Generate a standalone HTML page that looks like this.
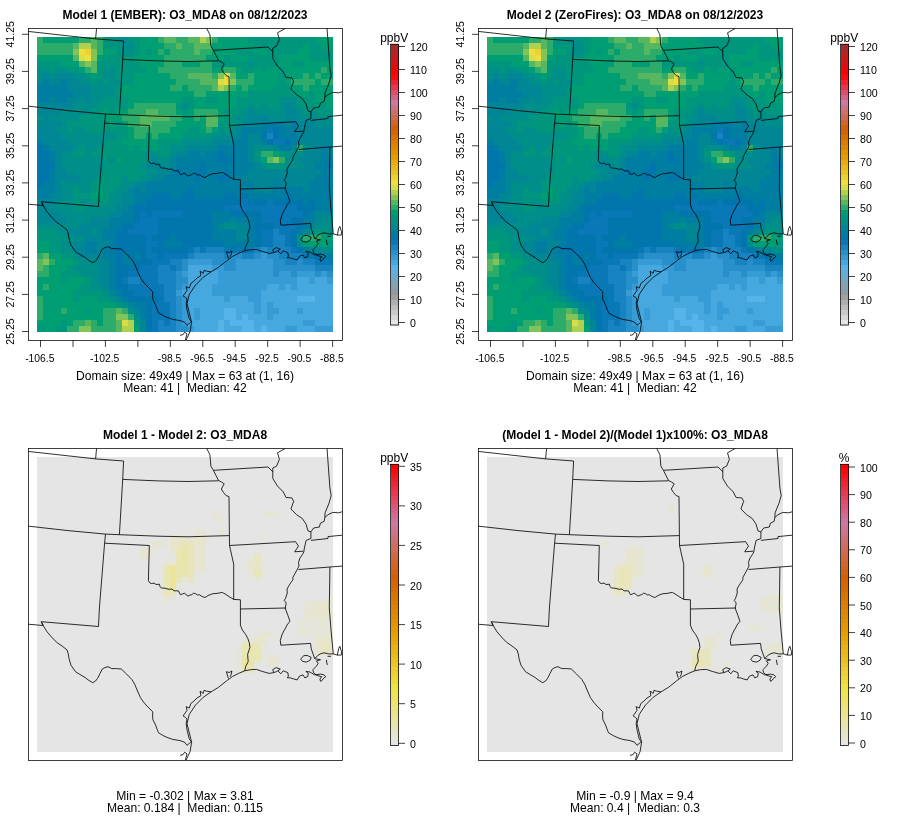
<!DOCTYPE html>
<html><head><meta charset="utf-8"><title>O3_MDA8 model comparison</title>
<style>html,body{margin:0;padding:0;background:#fff}svg{display:block}text{font-family:"Liberation Sans",Arial,Helvetica,sans-serif;fill:#000}.t{font-size:12.02px;font-weight:bold;text-anchor:middle}.s{font-size:12.1px;text-anchor:middle}.a{font-size:10.5px;text-anchor:middle}.ax{font-size:10.35px;text-anchor:middle}.c{font-size:10.6px}.u{font-size:12px;text-anchor:middle}</style></head><body>
<svg width="900" height="840" viewBox="0 0 900 840">
<rect width="900" height="840" fill="#fff"/>
<defs>
<clipPath id="bx"><rect x="28.5" y="28.5" width="314" height="312"/></clipPath>
<g id="r1" shape-rendering="crispEdges"><rect x="37" y="37" width="6" height="6" fill="#2CAB6A"/>
<rect x="43" y="37" width="36" height="6" fill="#009E73"/>
<rect x="79" y="37" width="12" height="6" fill="#2CAB6A"/>
<rect x="91" y="37" width="6" height="6" fill="#57B761"/>
<rect x="97" y="37" width="6" height="6" fill="#2CAB6A"/>
<rect x="103" y="37" width="13" height="6" fill="#00967E"/>
<rect x="116" y="37" width="12" height="6" fill="#008E8A"/>
<rect x="128" y="37" width="12" height="6" fill="#00967E"/>
<rect x="140" y="37" width="18" height="6" fill="#009E73"/>
<rect x="158" y="37" width="6" height="6" fill="#2CAB6A"/>
<rect x="164" y="37" width="12" height="6" fill="#57B761"/>
<rect x="176" y="37" width="12" height="6" fill="#2CAB6A"/>
<rect x="188" y="37" width="12" height="6" fill="#57B761"/>
<rect x="200" y="37" width="6" height="6" fill="#AFD14F"/>
<rect x="206" y="37" width="6" height="6" fill="#83C458"/>
<rect x="212" y="37" width="6" height="6" fill="#2CAB6A"/>
<rect x="218" y="37" width="30" height="6" fill="#009E73"/>
<rect x="248" y="37" width="67" height="6" fill="#00967E"/>
<rect x="315" y="37" width="18" height="6" fill="#009E73"/>
<rect x="37" y="43" width="36" height="6" fill="#2CAB6A"/>
<rect x="73" y="43" width="6" height="6" fill="#57B761"/>
<rect x="79" y="43" width="12" height="6" fill="#AFD14F"/>
<rect x="91" y="43" width="6" height="6" fill="#57B761"/>
<rect x="97" y="43" width="6" height="6" fill="#2CAB6A"/>
<rect x="103" y="43" width="19" height="6" fill="#00967E"/>
<rect x="122" y="43" width="12" height="6" fill="#008E8A"/>
<rect x="134" y="43" width="6" height="6" fill="#00967E"/>
<rect x="140" y="43" width="24" height="6" fill="#009E73"/>
<rect x="164" y="43" width="12" height="6" fill="#2CAB6A"/>
<rect x="176" y="43" width="6" height="6" fill="#57B761"/>
<rect x="182" y="43" width="12" height="6" fill="#2CAB6A"/>
<rect x="194" y="43" width="18" height="6" fill="#57B761"/>
<rect x="212" y="43" width="42" height="6" fill="#009E73"/>
<rect x="254" y="43" width="49" height="6" fill="#00967E"/>
<rect x="303" y="43" width="6" height="6" fill="#009E73"/>
<rect x="309" y="43" width="12" height="6" fill="#00967E"/>
<rect x="321" y="43" width="12" height="6" fill="#009E73"/>
<rect x="37" y="49" width="36" height="6" fill="#2CAB6A"/>
<rect x="73" y="49" width="6" height="6" fill="#83C458"/>
<rect x="79" y="49" width="6" height="6" fill="#EFDE3C"/>
<rect x="85" y="49" width="6" height="6" fill="#EDD130"/>
<rect x="91" y="49" width="6" height="6" fill="#83C458"/>
<rect x="97" y="49" width="6" height="6" fill="#2CAB6A"/>
<rect x="103" y="49" width="13" height="6" fill="#009E73"/>
<rect x="116" y="49" width="6" height="6" fill="#00967E"/>
<rect x="122" y="49" width="12" height="6" fill="#008E8A"/>
<rect x="134" y="49" width="6" height="6" fill="#00967E"/>
<rect x="140" y="49" width="6" height="6" fill="#009E73"/>
<rect x="146" y="49" width="6" height="6" fill="#00967E"/>
<rect x="152" y="49" width="6" height="6" fill="#009E73"/>
<rect x="158" y="49" width="6" height="6" fill="#2CAB6A"/>
<rect x="164" y="49" width="6" height="6" fill="#009E73"/>
<rect x="170" y="49" width="24" height="6" fill="#2CAB6A"/>
<rect x="194" y="49" width="6" height="6" fill="#57B761"/>
<rect x="200" y="49" width="12" height="6" fill="#2CAB6A"/>
<rect x="212" y="49" width="24" height="6" fill="#009E73"/>
<rect x="236" y="49" width="18" height="6" fill="#00967E"/>
<rect x="254" y="49" width="13" height="6" fill="#009E73"/>
<rect x="267" y="49" width="30" height="6" fill="#00967E"/>
<rect x="297" y="49" width="12" height="6" fill="#009E73"/>
<rect x="309" y="49" width="24" height="6" fill="#00967E"/>
<rect x="37" y="55" width="36" height="6" fill="#009E73"/>
<rect x="73" y="55" width="6" height="6" fill="#57B761"/>
<rect x="79" y="55" width="6" height="6" fill="#DADE46"/>
<rect x="85" y="55" width="6" height="6" fill="#EFDE3C"/>
<rect x="91" y="55" width="6" height="6" fill="#83C458"/>
<rect x="97" y="55" width="6" height="6" fill="#009E73"/>
<rect x="103" y="55" width="31" height="6" fill="#00967E"/>
<rect x="134" y="55" width="30" height="6" fill="#009E73"/>
<rect x="164" y="55" width="42" height="6" fill="#2CAB6A"/>
<rect x="206" y="55" width="18" height="6" fill="#009E73"/>
<rect x="224" y="55" width="6" height="6" fill="#00967E"/>
<rect x="230" y="55" width="18" height="6" fill="#009E73"/>
<rect x="248" y="55" width="31" height="6" fill="#00967E"/>
<rect x="279" y="55" width="30" height="6" fill="#009E73"/>
<rect x="309" y="55" width="24" height="6" fill="#00967E"/>
<rect x="37" y="61" width="24" height="6" fill="#00967E"/>
<rect x="61" y="61" width="18" height="6" fill="#009E73"/>
<rect x="79" y="61" width="6" height="6" fill="#57B761"/>
<rect x="85" y="61" width="6" height="6" fill="#83C458"/>
<rect x="91" y="61" width="6" height="6" fill="#57B761"/>
<rect x="97" y="61" width="43" height="6" fill="#00967E"/>
<rect x="140" y="61" width="24" height="6" fill="#009E73"/>
<rect x="164" y="61" width="18" height="6" fill="#2CAB6A"/>
<rect x="182" y="61" width="18" height="6" fill="#009E73"/>
<rect x="200" y="61" width="12" height="6" fill="#2CAB6A"/>
<rect x="212" y="61" width="36" height="6" fill="#00967E"/>
<rect x="248" y="61" width="6" height="6" fill="#008E8A"/>
<rect x="254" y="61" width="25" height="6" fill="#00967E"/>
<rect x="279" y="61" width="12" height="6" fill="#009E73"/>
<rect x="291" y="61" width="12" height="6" fill="#00967E"/>
<rect x="303" y="61" width="30" height="6" fill="#009E73"/>
<rect x="37" y="67" width="12" height="6" fill="#008E8A"/>
<rect x="49" y="67" width="6" height="6" fill="#00967E"/>
<rect x="55" y="67" width="12" height="6" fill="#008E8A"/>
<rect x="67" y="67" width="12" height="6" fill="#00967E"/>
<rect x="79" y="67" width="6" height="6" fill="#009E73"/>
<rect x="85" y="67" width="6" height="6" fill="#2CAB6A"/>
<rect x="91" y="67" width="6" height="6" fill="#57B761"/>
<rect x="97" y="67" width="6" height="6" fill="#00967E"/>
<rect x="103" y="67" width="13" height="6" fill="#008E8A"/>
<rect x="116" y="67" width="30" height="6" fill="#00967E"/>
<rect x="146" y="67" width="12" height="6" fill="#009E73"/>
<rect x="158" y="67" width="54" height="6" fill="#2CAB6A"/>
<rect x="212" y="67" width="12" height="6" fill="#009E73"/>
<rect x="224" y="67" width="12" height="6" fill="#2CAB6A"/>
<rect x="236" y="67" width="6" height="6" fill="#009E73"/>
<rect x="242" y="67" width="12" height="6" fill="#00967E"/>
<rect x="254" y="67" width="7" height="6" fill="#009E73"/>
<rect x="261" y="67" width="6" height="6" fill="#00967E"/>
<rect x="267" y="67" width="12" height="6" fill="#009E73"/>
<rect x="279" y="67" width="6" height="6" fill="#00967E"/>
<rect x="285" y="67" width="36" height="6" fill="#009E73"/>
<rect x="321" y="67" width="6" height="6" fill="#2CAB6A"/>
<rect x="327" y="67" width="6" height="6" fill="#009E73"/>
<rect x="37" y="73" width="6" height="6" fill="#008E8A"/>
<rect x="43" y="73" width="6" height="6" fill="#008695"/>
<rect x="49" y="73" width="6" height="6" fill="#008E8A"/>
<rect x="55" y="73" width="18" height="6" fill="#008695"/>
<rect x="73" y="73" width="12" height="6" fill="#008E8A"/>
<rect x="85" y="73" width="6" height="6" fill="#00967E"/>
<rect x="91" y="73" width="6" height="6" fill="#009E73"/>
<rect x="97" y="73" width="6" height="6" fill="#00967E"/>
<rect x="103" y="73" width="13" height="6" fill="#008E8A"/>
<rect x="116" y="73" width="18" height="6" fill="#00967E"/>
<rect x="134" y="73" width="36" height="6" fill="#009E73"/>
<rect x="170" y="73" width="18" height="6" fill="#2CAB6A"/>
<rect x="188" y="73" width="24" height="6" fill="#57B761"/>
<rect x="212" y="73" width="6" height="6" fill="#2CAB6A"/>
<rect x="218" y="73" width="6" height="6" fill="#83C458"/>
<rect x="224" y="73" width="6" height="6" fill="#DADE46"/>
<rect x="230" y="73" width="6" height="6" fill="#57B761"/>
<rect x="236" y="73" width="12" height="6" fill="#009E73"/>
<rect x="248" y="73" width="6" height="6" fill="#2CAB6A"/>
<rect x="254" y="73" width="25" height="6" fill="#009E73"/>
<rect x="279" y="73" width="6" height="6" fill="#00967E"/>
<rect x="285" y="73" width="18" height="6" fill="#009E73"/>
<rect x="303" y="73" width="6" height="6" fill="#2CAB6A"/>
<rect x="309" y="73" width="6" height="6" fill="#009E73"/>
<rect x="315" y="73" width="6" height="6" fill="#2CAB6A"/>
<rect x="321" y="73" width="12" height="6" fill="#009E73"/>
<rect x="37" y="79" width="6" height="6" fill="#008695"/>
<rect x="43" y="79" width="6" height="6" fill="#007EA1"/>
<rect x="49" y="79" width="12" height="6" fill="#008695"/>
<rect x="61" y="79" width="6" height="6" fill="#007EA1"/>
<rect x="67" y="79" width="12" height="6" fill="#008695"/>
<rect x="79" y="79" width="12" height="6" fill="#008E8A"/>
<rect x="91" y="79" width="6" height="6" fill="#00967E"/>
<rect x="97" y="79" width="6" height="6" fill="#008E8A"/>
<rect x="103" y="79" width="6" height="6" fill="#00967E"/>
<rect x="109" y="79" width="13" height="6" fill="#008E8A"/>
<rect x="122" y="79" width="12" height="6" fill="#00967E"/>
<rect x="134" y="79" width="42" height="6" fill="#009E73"/>
<rect x="176" y="79" width="24" height="6" fill="#2CAB6A"/>
<rect x="200" y="79" width="18" height="6" fill="#57B761"/>
<rect x="218" y="79" width="6" height="6" fill="#DADE46"/>
<rect x="224" y="79" width="6" height="6" fill="#EFDE3C"/>
<rect x="230" y="79" width="6" height="6" fill="#83C458"/>
<rect x="236" y="79" width="18" height="6" fill="#2CAB6A"/>
<rect x="254" y="79" width="25" height="6" fill="#009E73"/>
<rect x="279" y="79" width="6" height="6" fill="#00967E"/>
<rect x="285" y="79" width="6" height="6" fill="#009E73"/>
<rect x="291" y="79" width="24" height="6" fill="#2CAB6A"/>
<rect x="315" y="79" width="6" height="6" fill="#009E73"/>
<rect x="321" y="79" width="12" height="6" fill="#2CAB6A"/>
<rect x="37" y="85" width="30" height="6" fill="#007EA1"/>
<rect x="67" y="85" width="24" height="6" fill="#008695"/>
<rect x="91" y="85" width="25" height="6" fill="#008E8A"/>
<rect x="116" y="85" width="6" height="6" fill="#00967E"/>
<rect x="122" y="85" width="48" height="6" fill="#009E73"/>
<rect x="170" y="85" width="12" height="6" fill="#2CAB6A"/>
<rect x="182" y="85" width="6" height="6" fill="#009E73"/>
<rect x="188" y="85" width="24" height="6" fill="#2CAB6A"/>
<rect x="212" y="85" width="6" height="6" fill="#57B761"/>
<rect x="218" y="85" width="6" height="6" fill="#AFD14F"/>
<rect x="224" y="85" width="6" height="6" fill="#83C458"/>
<rect x="230" y="85" width="6" height="6" fill="#2CAB6A"/>
<rect x="236" y="85" width="6" height="6" fill="#009E73"/>
<rect x="242" y="85" width="6" height="6" fill="#2CAB6A"/>
<rect x="248" y="85" width="25" height="6" fill="#009E73"/>
<rect x="273" y="85" width="18" height="6" fill="#00967E"/>
<rect x="291" y="85" width="12" height="6" fill="#009E73"/>
<rect x="303" y="85" width="6" height="6" fill="#2CAB6A"/>
<rect x="309" y="85" width="24" height="6" fill="#009E73"/>
<rect x="37" y="91" width="36" height="6" fill="#007EA1"/>
<rect x="73" y="91" width="18" height="6" fill="#008695"/>
<rect x="91" y="91" width="25" height="6" fill="#008E8A"/>
<rect x="116" y="91" width="6" height="6" fill="#00967E"/>
<rect x="122" y="91" width="72" height="6" fill="#009E73"/>
<rect x="194" y="91" width="12" height="6" fill="#2CAB6A"/>
<rect x="206" y="91" width="42" height="6" fill="#009E73"/>
<rect x="248" y="91" width="49" height="6" fill="#00967E"/>
<rect x="297" y="91" width="12" height="6" fill="#009E73"/>
<rect x="309" y="91" width="6" height="6" fill="#00967E"/>
<rect x="315" y="91" width="18" height="6" fill="#009E73"/>
<rect x="37" y="97" width="12" height="6" fill="#007EA1"/>
<rect x="49" y="97" width="6" height="6" fill="#008695"/>
<rect x="55" y="97" width="12" height="6" fill="#007EA1"/>
<rect x="67" y="97" width="12" height="6" fill="#008695"/>
<rect x="79" y="97" width="6" height="6" fill="#008E8A"/>
<rect x="85" y="97" width="6" height="6" fill="#008695"/>
<rect x="91" y="97" width="12" height="6" fill="#008E8A"/>
<rect x="103" y="97" width="25" height="6" fill="#00967E"/>
<rect x="128" y="97" width="54" height="6" fill="#009E73"/>
<rect x="182" y="97" width="12" height="6" fill="#00967E"/>
<rect x="194" y="97" width="12" height="6" fill="#009E73"/>
<rect x="206" y="97" width="12" height="6" fill="#00967E"/>
<rect x="218" y="97" width="18" height="6" fill="#009E73"/>
<rect x="236" y="97" width="43" height="6" fill="#00967E"/>
<rect x="279" y="97" width="18" height="6" fill="#008E8A"/>
<rect x="297" y="97" width="18" height="6" fill="#00967E"/>
<rect x="315" y="97" width="18" height="6" fill="#009E73"/>
<rect x="37" y="103" width="36" height="6" fill="#008695"/>
<rect x="73" y="103" width="24" height="6" fill="#008E8A"/>
<rect x="97" y="103" width="31" height="6" fill="#00967E"/>
<rect x="128" y="103" width="6" height="6" fill="#009E73"/>
<rect x="134" y="103" width="42" height="6" fill="#2CAB6A"/>
<rect x="176" y="103" width="6" height="6" fill="#00967E"/>
<rect x="182" y="103" width="6" height="6" fill="#008E8A"/>
<rect x="188" y="103" width="6" height="6" fill="#00967E"/>
<rect x="194" y="103" width="42" height="6" fill="#009E73"/>
<rect x="236" y="103" width="12" height="6" fill="#00967E"/>
<rect x="248" y="103" width="6" height="6" fill="#008E8A"/>
<rect x="254" y="103" width="7" height="6" fill="#00967E"/>
<rect x="261" y="103" width="6" height="6" fill="#008E8A"/>
<rect x="267" y="103" width="12" height="6" fill="#00967E"/>
<rect x="279" y="103" width="6" height="6" fill="#008E8A"/>
<rect x="285" y="103" width="6" height="6" fill="#008695"/>
<rect x="291" y="103" width="6" height="6" fill="#008E8A"/>
<rect x="297" y="103" width="30" height="6" fill="#00967E"/>
<rect x="327" y="103" width="6" height="6" fill="#009E73"/>
<rect x="37" y="109" width="24" height="6" fill="#008695"/>
<rect x="61" y="109" width="30" height="6" fill="#008E8A"/>
<rect x="91" y="109" width="12" height="6" fill="#00967E"/>
<rect x="103" y="109" width="6" height="6" fill="#009E73"/>
<rect x="109" y="109" width="7" height="6" fill="#00967E"/>
<rect x="116" y="109" width="12" height="6" fill="#009E73"/>
<rect x="128" y="109" width="18" height="6" fill="#2CAB6A"/>
<rect x="146" y="109" width="12" height="6" fill="#57B761"/>
<rect x="158" y="109" width="18" height="6" fill="#2CAB6A"/>
<rect x="176" y="109" width="6" height="6" fill="#009E73"/>
<rect x="182" y="109" width="6" height="6" fill="#00967E"/>
<rect x="188" y="109" width="6" height="6" fill="#009E73"/>
<rect x="194" y="109" width="24" height="6" fill="#2CAB6A"/>
<rect x="218" y="109" width="6" height="6" fill="#009E73"/>
<rect x="224" y="109" width="18" height="6" fill="#00967E"/>
<rect x="242" y="109" width="6" height="6" fill="#008E8A"/>
<rect x="248" y="109" width="6" height="6" fill="#008695"/>
<rect x="254" y="109" width="31" height="6" fill="#008E8A"/>
<rect x="285" y="109" width="12" height="6" fill="#008695"/>
<rect x="297" y="109" width="6" height="6" fill="#008E8A"/>
<rect x="303" y="109" width="6" height="6" fill="#00967E"/>
<rect x="309" y="109" width="6" height="6" fill="#008E8A"/>
<rect x="315" y="109" width="18" height="6" fill="#00967E"/>
<rect x="37" y="115" width="6" height="6" fill="#008E8A"/>
<rect x="43" y="115" width="6" height="6" fill="#008695"/>
<rect x="49" y="115" width="30" height="6" fill="#008E8A"/>
<rect x="79" y="115" width="24" height="6" fill="#00967E"/>
<rect x="103" y="115" width="19" height="6" fill="#009E73"/>
<rect x="122" y="115" width="18" height="6" fill="#2CAB6A"/>
<rect x="140" y="115" width="30" height="6" fill="#57B761"/>
<rect x="170" y="115" width="12" height="6" fill="#2CAB6A"/>
<rect x="182" y="115" width="12" height="6" fill="#009E73"/>
<rect x="194" y="115" width="6" height="6" fill="#2CAB6A"/>
<rect x="200" y="115" width="6" height="6" fill="#009E73"/>
<rect x="206" y="115" width="12" height="6" fill="#57B761"/>
<rect x="218" y="115" width="6" height="6" fill="#009E73"/>
<rect x="224" y="115" width="12" height="6" fill="#00967E"/>
<rect x="236" y="115" width="12" height="6" fill="#008E8A"/>
<rect x="248" y="115" width="19" height="6" fill="#008695"/>
<rect x="267" y="115" width="18" height="6" fill="#008E8A"/>
<rect x="285" y="115" width="12" height="6" fill="#008695"/>
<rect x="297" y="115" width="36" height="6" fill="#008E8A"/>
<rect x="37" y="121" width="24" height="6" fill="#008695"/>
<rect x="61" y="121" width="6" height="6" fill="#008E8A"/>
<rect x="67" y="121" width="42" height="6" fill="#00967E"/>
<rect x="109" y="121" width="7" height="6" fill="#009E73"/>
<rect x="116" y="121" width="6" height="6" fill="#00967E"/>
<rect x="122" y="121" width="6" height="6" fill="#009E73"/>
<rect x="128" y="121" width="12" height="6" fill="#2CAB6A"/>
<rect x="140" y="121" width="12" height="6" fill="#57B761"/>
<rect x="152" y="121" width="24" height="6" fill="#2CAB6A"/>
<rect x="176" y="121" width="30" height="6" fill="#009E73"/>
<rect x="206" y="121" width="12" height="6" fill="#57B761"/>
<rect x="218" y="121" width="18" height="6" fill="#00967E"/>
<rect x="236" y="121" width="6" height="6" fill="#008E8A"/>
<rect x="242" y="121" width="19" height="6" fill="#008695"/>
<rect x="261" y="121" width="24" height="6" fill="#007EA1"/>
<rect x="285" y="121" width="6" height="6" fill="#008695"/>
<rect x="291" y="121" width="6" height="6" fill="#007EA1"/>
<rect x="297" y="121" width="18" height="6" fill="#008695"/>
<rect x="315" y="121" width="18" height="6" fill="#008E8A"/>
<rect x="37" y="127" width="18" height="6" fill="#008695"/>
<rect x="55" y="127" width="12" height="6" fill="#008E8A"/>
<rect x="67" y="127" width="6" height="6" fill="#00967E"/>
<rect x="73" y="127" width="12" height="6" fill="#008E8A"/>
<rect x="85" y="127" width="43" height="6" fill="#00967E"/>
<rect x="128" y="127" width="6" height="6" fill="#009E73"/>
<rect x="134" y="127" width="36" height="6" fill="#2CAB6A"/>
<rect x="170" y="127" width="18" height="6" fill="#009E73"/>
<rect x="188" y="127" width="12" height="6" fill="#00967E"/>
<rect x="200" y="127" width="6" height="6" fill="#009E73"/>
<rect x="206" y="127" width="6" height="6" fill="#2CAB6A"/>
<rect x="212" y="127" width="6" height="6" fill="#009E73"/>
<rect x="218" y="127" width="6" height="6" fill="#008E8A"/>
<rect x="224" y="127" width="6" height="6" fill="#00967E"/>
<rect x="230" y="127" width="6" height="6" fill="#008E8A"/>
<rect x="236" y="127" width="6" height="6" fill="#008695"/>
<rect x="242" y="127" width="25" height="6" fill="#007EA1"/>
<rect x="267" y="127" width="6" height="6" fill="#0878B7"/>
<rect x="273" y="127" width="6" height="6" fill="#0076AC"/>
<rect x="279" y="127" width="18" height="6" fill="#007EA1"/>
<rect x="297" y="127" width="36" height="6" fill="#008695"/>
<rect x="37" y="133" width="24" height="6" fill="#008695"/>
<rect x="61" y="133" width="55" height="6" fill="#008E8A"/>
<rect x="116" y="133" width="12" height="6" fill="#00967E"/>
<rect x="128" y="133" width="6" height="6" fill="#009E73"/>
<rect x="134" y="133" width="12" height="6" fill="#2CAB6A"/>
<rect x="146" y="133" width="6" height="6" fill="#009E73"/>
<rect x="152" y="133" width="6" height="6" fill="#2CAB6A"/>
<rect x="158" y="133" width="24" height="6" fill="#009E73"/>
<rect x="182" y="133" width="30" height="6" fill="#00967E"/>
<rect x="212" y="133" width="18" height="6" fill="#008E8A"/>
<rect x="230" y="133" width="12" height="6" fill="#008695"/>
<rect x="242" y="133" width="6" height="6" fill="#007EA1"/>
<rect x="248" y="133" width="13" height="6" fill="#008695"/>
<rect x="261" y="133" width="6" height="6" fill="#0076AC"/>
<rect x="267" y="133" width="6" height="6" fill="#1784C1"/>
<rect x="273" y="133" width="6" height="6" fill="#0076AC"/>
<rect x="279" y="133" width="18" height="6" fill="#007EA1"/>
<rect x="297" y="133" width="36" height="6" fill="#008695"/>
<rect x="37" y="139" width="6" height="6" fill="#007EA1"/>
<rect x="43" y="139" width="24" height="6" fill="#008695"/>
<rect x="67" y="139" width="36" height="6" fill="#008E8A"/>
<rect x="103" y="139" width="19" height="6" fill="#00967E"/>
<rect x="122" y="139" width="36" height="6" fill="#009E73"/>
<rect x="158" y="139" width="24" height="6" fill="#00967E"/>
<rect x="182" y="139" width="30" height="6" fill="#008E8A"/>
<rect x="212" y="139" width="24" height="6" fill="#008695"/>
<rect x="236" y="139" width="12" height="6" fill="#007EA1"/>
<rect x="248" y="139" width="13" height="6" fill="#008695"/>
<rect x="261" y="139" width="6" height="6" fill="#007EA1"/>
<rect x="267" y="139" width="6" height="6" fill="#0076AC"/>
<rect x="273" y="139" width="12" height="6" fill="#0878B7"/>
<rect x="285" y="139" width="6" height="6" fill="#0076AC"/>
<rect x="291" y="139" width="6" height="6" fill="#007EA1"/>
<rect x="297" y="139" width="36" height="6" fill="#008695"/>
<rect x="37" y="145" width="6" height="6" fill="#0076AC"/>
<rect x="43" y="145" width="6" height="6" fill="#007EA1"/>
<rect x="49" y="145" width="24" height="6" fill="#008695"/>
<rect x="73" y="145" width="6" height="6" fill="#008E8A"/>
<rect x="79" y="145" width="6" height="6" fill="#00967E"/>
<rect x="85" y="145" width="12" height="6" fill="#008E8A"/>
<rect x="97" y="145" width="31" height="6" fill="#00967E"/>
<rect x="128" y="145" width="6" height="6" fill="#009E73"/>
<rect x="134" y="145" width="6" height="6" fill="#00967E"/>
<rect x="140" y="145" width="6" height="6" fill="#009E73"/>
<rect x="146" y="145" width="6" height="6" fill="#00967E"/>
<rect x="152" y="145" width="6" height="6" fill="#009E73"/>
<rect x="158" y="145" width="12" height="6" fill="#00967E"/>
<rect x="170" y="145" width="18" height="6" fill="#008E8A"/>
<rect x="188" y="145" width="30" height="6" fill="#008695"/>
<rect x="218" y="145" width="30" height="6" fill="#007EA1"/>
<rect x="248" y="145" width="6" height="6" fill="#008695"/>
<rect x="254" y="145" width="19" height="6" fill="#008E8A"/>
<rect x="273" y="145" width="6" height="6" fill="#008695"/>
<rect x="279" y="145" width="12" height="6" fill="#007EA1"/>
<rect x="291" y="145" width="6" height="6" fill="#008695"/>
<rect x="297" y="145" width="6" height="6" fill="#2CAB6A"/>
<rect x="303" y="145" width="6" height="6" fill="#008E8A"/>
<rect x="309" y="145" width="12" height="6" fill="#008695"/>
<rect x="321" y="145" width="6" height="6" fill="#007EA1"/>
<rect x="327" y="145" width="6" height="6" fill="#008695"/>
<rect x="37" y="151" width="12" height="6" fill="#0076AC"/>
<rect x="49" y="151" width="6" height="6" fill="#007EA1"/>
<rect x="55" y="151" width="6" height="6" fill="#008695"/>
<rect x="61" y="151" width="12" height="6" fill="#008E8A"/>
<rect x="73" y="151" width="12" height="6" fill="#00967E"/>
<rect x="85" y="151" width="6" height="6" fill="#008E8A"/>
<rect x="91" y="151" width="55" height="6" fill="#00967E"/>
<rect x="146" y="151" width="12" height="6" fill="#008E8A"/>
<rect x="158" y="151" width="12" height="6" fill="#00967E"/>
<rect x="170" y="151" width="6" height="6" fill="#008E8A"/>
<rect x="176" y="151" width="12" height="6" fill="#008695"/>
<rect x="188" y="151" width="12" height="6" fill="#007EA1"/>
<rect x="200" y="151" width="6" height="6" fill="#008695"/>
<rect x="206" y="151" width="12" height="6" fill="#007EA1"/>
<rect x="218" y="151" width="6" height="6" fill="#0076AC"/>
<rect x="224" y="151" width="24" height="6" fill="#007EA1"/>
<rect x="248" y="151" width="6" height="6" fill="#008695"/>
<rect x="254" y="151" width="7" height="6" fill="#00967E"/>
<rect x="261" y="151" width="12" height="6" fill="#2CAB6A"/>
<rect x="273" y="151" width="6" height="6" fill="#009E73"/>
<rect x="279" y="151" width="6" height="6" fill="#00967E"/>
<rect x="285" y="151" width="18" height="6" fill="#008E8A"/>
<rect x="303" y="151" width="18" height="6" fill="#008695"/>
<rect x="321" y="151" width="6" height="6" fill="#007EA1"/>
<rect x="327" y="151" width="6" height="6" fill="#008695"/>
<rect x="37" y="157" width="12" height="6" fill="#0076AC"/>
<rect x="49" y="157" width="6" height="6" fill="#007EA1"/>
<rect x="55" y="157" width="6" height="6" fill="#008695"/>
<rect x="61" y="157" width="42" height="6" fill="#008E8A"/>
<rect x="103" y="157" width="6" height="6" fill="#00967E"/>
<rect x="109" y="157" width="7" height="6" fill="#008E8A"/>
<rect x="116" y="157" width="6" height="6" fill="#009E73"/>
<rect x="122" y="157" width="24" height="6" fill="#00967E"/>
<rect x="146" y="157" width="6" height="6" fill="#008E8A"/>
<rect x="152" y="157" width="6" height="6" fill="#008695"/>
<rect x="158" y="157" width="12" height="6" fill="#008E8A"/>
<rect x="170" y="157" width="6" height="6" fill="#008695"/>
<rect x="176" y="157" width="42" height="6" fill="#007EA1"/>
<rect x="218" y="157" width="12" height="6" fill="#0076AC"/>
<rect x="230" y="157" width="18" height="6" fill="#007EA1"/>
<rect x="248" y="157" width="6" height="6" fill="#008695"/>
<rect x="254" y="157" width="7" height="6" fill="#008E8A"/>
<rect x="261" y="157" width="6" height="6" fill="#009E73"/>
<rect x="267" y="157" width="6" height="6" fill="#57B761"/>
<rect x="273" y="157" width="6" height="6" fill="#83C458"/>
<rect x="279" y="157" width="6" height="6" fill="#2CAB6A"/>
<rect x="285" y="157" width="12" height="6" fill="#008E8A"/>
<rect x="297" y="157" width="24" height="6" fill="#008695"/>
<rect x="321" y="157" width="12" height="6" fill="#007EA1"/>
<rect x="37" y="163" width="18" height="6" fill="#0076AC"/>
<rect x="55" y="163" width="6" height="6" fill="#008695"/>
<rect x="61" y="163" width="42" height="6" fill="#008E8A"/>
<rect x="103" y="163" width="37" height="6" fill="#00967E"/>
<rect x="140" y="163" width="6" height="6" fill="#008E8A"/>
<rect x="146" y="163" width="18" height="6" fill="#008695"/>
<rect x="164" y="163" width="6" height="6" fill="#008E8A"/>
<rect x="170" y="163" width="6" height="6" fill="#008695"/>
<rect x="176" y="163" width="24" height="6" fill="#007EA1"/>
<rect x="200" y="163" width="6" height="6" fill="#0076AC"/>
<rect x="206" y="163" width="48" height="6" fill="#007EA1"/>
<rect x="254" y="163" width="7" height="6" fill="#008695"/>
<rect x="261" y="163" width="6" height="6" fill="#008E8A"/>
<rect x="267" y="163" width="18" height="6" fill="#00967E"/>
<rect x="285" y="163" width="18" height="6" fill="#008E8A"/>
<rect x="303" y="163" width="12" height="6" fill="#008695"/>
<rect x="315" y="163" width="12" height="6" fill="#007EA1"/>
<rect x="327" y="163" width="6" height="6" fill="#0076AC"/>
<rect x="37" y="169" width="12" height="6" fill="#0076AC"/>
<rect x="49" y="169" width="6" height="6" fill="#007EA1"/>
<rect x="55" y="169" width="12" height="6" fill="#008695"/>
<rect x="67" y="169" width="36" height="6" fill="#008E8A"/>
<rect x="103" y="169" width="43" height="6" fill="#00967E"/>
<rect x="146" y="169" width="12" height="6" fill="#008E8A"/>
<rect x="158" y="169" width="12" height="6" fill="#008695"/>
<rect x="170" y="169" width="6" height="6" fill="#007EA1"/>
<rect x="176" y="169" width="6" height="6" fill="#0076AC"/>
<rect x="182" y="169" width="12" height="6" fill="#007EA1"/>
<rect x="194" y="169" width="12" height="6" fill="#0076AC"/>
<rect x="206" y="169" width="18" height="6" fill="#007EA1"/>
<rect x="224" y="169" width="6" height="6" fill="#0076AC"/>
<rect x="230" y="169" width="18" height="6" fill="#007EA1"/>
<rect x="248" y="169" width="73" height="6" fill="#008695"/>
<rect x="321" y="169" width="12" height="6" fill="#007EA1"/>
<rect x="37" y="175" width="12" height="6" fill="#0076AC"/>
<rect x="49" y="175" width="6" height="6" fill="#007EA1"/>
<rect x="55" y="175" width="24" height="6" fill="#008695"/>
<rect x="79" y="175" width="18" height="6" fill="#008E8A"/>
<rect x="97" y="175" width="25" height="6" fill="#00967E"/>
<rect x="122" y="175" width="6" height="6" fill="#008E8A"/>
<rect x="128" y="175" width="12" height="6" fill="#00967E"/>
<rect x="140" y="175" width="12" height="6" fill="#008E8A"/>
<rect x="152" y="175" width="12" height="6" fill="#008695"/>
<rect x="164" y="175" width="30" height="6" fill="#007EA1"/>
<rect x="194" y="175" width="6" height="6" fill="#0076AC"/>
<rect x="200" y="175" width="18" height="6" fill="#007EA1"/>
<rect x="218" y="175" width="12" height="6" fill="#0076AC"/>
<rect x="230" y="175" width="12" height="6" fill="#007EA1"/>
<rect x="242" y="175" width="73" height="6" fill="#008695"/>
<rect x="315" y="175" width="18" height="6" fill="#007EA1"/>
<rect x="37" y="181" width="6" height="6" fill="#0076AC"/>
<rect x="43" y="181" width="12" height="6" fill="#007EA1"/>
<rect x="55" y="181" width="6" height="6" fill="#008695"/>
<rect x="61" y="181" width="30" height="6" fill="#008E8A"/>
<rect x="91" y="181" width="31" height="6" fill="#00967E"/>
<rect x="122" y="181" width="12" height="6" fill="#008E8A"/>
<rect x="134" y="181" width="12" height="6" fill="#008695"/>
<rect x="146" y="181" width="108" height="6" fill="#007EA1"/>
<rect x="254" y="181" width="19" height="6" fill="#008695"/>
<rect x="273" y="181" width="6" height="6" fill="#007EA1"/>
<rect x="279" y="181" width="30" height="6" fill="#008695"/>
<rect x="309" y="181" width="24" height="6" fill="#007EA1"/>
<rect x="37" y="187" width="18" height="6" fill="#007EA1"/>
<rect x="55" y="187" width="6" height="6" fill="#008695"/>
<rect x="61" y="187" width="12" height="6" fill="#008E8A"/>
<rect x="73" y="187" width="6" height="6" fill="#00967E"/>
<rect x="79" y="187" width="12" height="6" fill="#008E8A"/>
<rect x="91" y="187" width="6" height="6" fill="#00967E"/>
<rect x="97" y="187" width="6" height="6" fill="#009E73"/>
<rect x="103" y="187" width="13" height="6" fill="#00967E"/>
<rect x="116" y="187" width="12" height="6" fill="#008E8A"/>
<rect x="128" y="187" width="6" height="6" fill="#008695"/>
<rect x="134" y="187" width="6" height="6" fill="#007EA1"/>
<rect x="140" y="187" width="6" height="6" fill="#008695"/>
<rect x="146" y="187" width="42" height="6" fill="#007EA1"/>
<rect x="188" y="187" width="6" height="6" fill="#0076AC"/>
<rect x="194" y="187" width="60" height="6" fill="#007EA1"/>
<rect x="254" y="187" width="19" height="6" fill="#008695"/>
<rect x="273" y="187" width="30" height="6" fill="#007EA1"/>
<rect x="303" y="187" width="6" height="6" fill="#008695"/>
<rect x="309" y="187" width="24" height="6" fill="#007EA1"/>
<rect x="37" y="193" width="12" height="6" fill="#007EA1"/>
<rect x="49" y="193" width="12" height="6" fill="#008695"/>
<rect x="61" y="193" width="12" height="6" fill="#008E8A"/>
<rect x="73" y="193" width="18" height="6" fill="#00967E"/>
<rect x="91" y="193" width="12" height="6" fill="#009E73"/>
<rect x="103" y="193" width="6" height="6" fill="#00967E"/>
<rect x="109" y="193" width="13" height="6" fill="#008E8A"/>
<rect x="122" y="193" width="12" height="6" fill="#008695"/>
<rect x="134" y="193" width="18" height="6" fill="#007EA1"/>
<rect x="152" y="193" width="18" height="6" fill="#0076AC"/>
<rect x="170" y="193" width="12" height="6" fill="#007EA1"/>
<rect x="182" y="193" width="12" height="6" fill="#0076AC"/>
<rect x="194" y="193" width="30" height="6" fill="#007EA1"/>
<rect x="224" y="193" width="12" height="6" fill="#0076AC"/>
<rect x="236" y="193" width="6" height="6" fill="#007EA1"/>
<rect x="242" y="193" width="6" height="6" fill="#0076AC"/>
<rect x="248" y="193" width="37" height="6" fill="#007EA1"/>
<rect x="285" y="193" width="6" height="6" fill="#0076AC"/>
<rect x="291" y="193" width="42" height="6" fill="#007EA1"/>
<rect x="37" y="199" width="18" height="6" fill="#008695"/>
<rect x="55" y="199" width="18" height="6" fill="#008E8A"/>
<rect x="73" y="199" width="6" height="6" fill="#00967E"/>
<rect x="79" y="199" width="12" height="6" fill="#008E8A"/>
<rect x="91" y="199" width="18" height="6" fill="#00967E"/>
<rect x="109" y="199" width="13" height="6" fill="#008E8A"/>
<rect x="122" y="199" width="12" height="6" fill="#008695"/>
<rect x="134" y="199" width="12" height="6" fill="#007EA1"/>
<rect x="146" y="199" width="96" height="6" fill="#0076AC"/>
<rect x="242" y="199" width="6" height="6" fill="#0878B7"/>
<rect x="248" y="199" width="19" height="6" fill="#0076AC"/>
<rect x="267" y="199" width="6" height="6" fill="#0878B7"/>
<rect x="273" y="199" width="30" height="6" fill="#0076AC"/>
<rect x="303" y="199" width="6" height="6" fill="#007EA1"/>
<rect x="309" y="199" width="6" height="6" fill="#0076AC"/>
<rect x="315" y="199" width="18" height="6" fill="#007EA1"/>
<rect x="37" y="205" width="12" height="6" fill="#008695"/>
<rect x="49" y="205" width="24" height="6" fill="#008E8A"/>
<rect x="73" y="205" width="12" height="6" fill="#00967E"/>
<rect x="85" y="205" width="31" height="6" fill="#008E8A"/>
<rect x="116" y="205" width="12" height="6" fill="#008695"/>
<rect x="128" y="205" width="6" height="6" fill="#007EA1"/>
<rect x="134" y="205" width="90" height="6" fill="#0076AC"/>
<rect x="224" y="205" width="73" height="6" fill="#0878B7"/>
<rect x="297" y="205" width="18" height="6" fill="#0076AC"/>
<rect x="315" y="205" width="18" height="6" fill="#007EA1"/>
<rect x="37" y="211" width="24" height="6" fill="#008695"/>
<rect x="61" y="211" width="48" height="6" fill="#008E8A"/>
<rect x="109" y="211" width="13" height="6" fill="#008695"/>
<rect x="122" y="211" width="12" height="6" fill="#007EA1"/>
<rect x="134" y="211" width="6" height="6" fill="#0076AC"/>
<rect x="140" y="211" width="6" height="6" fill="#0878B7"/>
<rect x="146" y="211" width="6" height="6" fill="#0076AC"/>
<rect x="152" y="211" width="30" height="6" fill="#0878B7"/>
<rect x="182" y="211" width="30" height="6" fill="#0076AC"/>
<rect x="212" y="211" width="18" height="6" fill="#007EA1"/>
<rect x="230" y="211" width="31" height="6" fill="#0076AC"/>
<rect x="261" y="211" width="42" height="6" fill="#0878B7"/>
<rect x="303" y="211" width="6" height="6" fill="#0076AC"/>
<rect x="309" y="211" width="6" height="6" fill="#007EA1"/>
<rect x="315" y="211" width="18" height="6" fill="#008695"/>
<rect x="37" y="217" width="30" height="6" fill="#008695"/>
<rect x="67" y="217" width="24" height="6" fill="#008E8A"/>
<rect x="91" y="217" width="18" height="6" fill="#008695"/>
<rect x="109" y="217" width="25" height="6" fill="#007EA1"/>
<rect x="134" y="217" width="6" height="6" fill="#0076AC"/>
<rect x="140" y="217" width="18" height="6" fill="#0878B7"/>
<rect x="158" y="217" width="54" height="6" fill="#0076AC"/>
<rect x="212" y="217" width="18" height="6" fill="#007EA1"/>
<rect x="230" y="217" width="6" height="6" fill="#008695"/>
<rect x="236" y="217" width="18" height="6" fill="#007EA1"/>
<rect x="254" y="217" width="7" height="6" fill="#0076AC"/>
<rect x="261" y="217" width="30" height="6" fill="#0878B7"/>
<rect x="291" y="217" width="12" height="6" fill="#0076AC"/>
<rect x="303" y="217" width="12" height="6" fill="#007EA1"/>
<rect x="315" y="217" width="6" height="6" fill="#008695"/>
<rect x="321" y="217" width="12" height="6" fill="#008E8A"/>
<rect x="37" y="223" width="42" height="6" fill="#008E8A"/>
<rect x="79" y="223" width="30" height="6" fill="#008695"/>
<rect x="109" y="223" width="13" height="6" fill="#007EA1"/>
<rect x="122" y="223" width="12" height="6" fill="#0076AC"/>
<rect x="134" y="223" width="24" height="6" fill="#0878B7"/>
<rect x="158" y="223" width="54" height="6" fill="#0076AC"/>
<rect x="212" y="223" width="6" height="6" fill="#007EA1"/>
<rect x="218" y="223" width="6" height="6" fill="#008695"/>
<rect x="224" y="223" width="12" height="6" fill="#008E8A"/>
<rect x="236" y="223" width="12" height="6" fill="#008695"/>
<rect x="248" y="223" width="6" height="6" fill="#007EA1"/>
<rect x="254" y="223" width="19" height="6" fill="#0076AC"/>
<rect x="273" y="223" width="24" height="6" fill="#0878B7"/>
<rect x="297" y="223" width="6" height="6" fill="#0076AC"/>
<rect x="303" y="223" width="6" height="6" fill="#007EA1"/>
<rect x="309" y="223" width="6" height="6" fill="#008695"/>
<rect x="315" y="223" width="18" height="6" fill="#008E8A"/>
<rect x="37" y="229" width="18" height="6" fill="#00967E"/>
<rect x="55" y="229" width="12" height="6" fill="#008E8A"/>
<rect x="67" y="229" width="24" height="6" fill="#008695"/>
<rect x="91" y="229" width="6" height="6" fill="#008E8A"/>
<rect x="97" y="229" width="6" height="6" fill="#008695"/>
<rect x="103" y="229" width="13" height="6" fill="#007EA1"/>
<rect x="116" y="229" width="12" height="6" fill="#0076AC"/>
<rect x="128" y="229" width="30" height="6" fill="#0878B7"/>
<rect x="158" y="229" width="54" height="6" fill="#0076AC"/>
<rect x="212" y="229" width="24" height="6" fill="#007EA1"/>
<rect x="236" y="229" width="12" height="6" fill="#008695"/>
<rect x="248" y="229" width="6" height="6" fill="#007EA1"/>
<rect x="254" y="229" width="7" height="6" fill="#0076AC"/>
<rect x="261" y="229" width="12" height="6" fill="#0878B7"/>
<rect x="273" y="229" width="6" height="6" fill="#1784C1"/>
<rect x="279" y="229" width="12" height="6" fill="#0878B7"/>
<rect x="291" y="229" width="6" height="6" fill="#0076AC"/>
<rect x="297" y="229" width="6" height="6" fill="#007EA1"/>
<rect x="303" y="229" width="6" height="6" fill="#008695"/>
<rect x="309" y="229" width="6" height="6" fill="#008E8A"/>
<rect x="315" y="229" width="12" height="6" fill="#00967E"/>
<rect x="327" y="229" width="6" height="6" fill="#008E8A"/>
<rect x="37" y="235" width="24" height="6" fill="#00967E"/>
<rect x="61" y="235" width="24" height="6" fill="#008E8A"/>
<rect x="85" y="235" width="18" height="6" fill="#008695"/>
<rect x="103" y="235" width="13" height="6" fill="#007EA1"/>
<rect x="116" y="235" width="30" height="6" fill="#0076AC"/>
<rect x="146" y="235" width="6" height="6" fill="#0878B7"/>
<rect x="152" y="235" width="18" height="6" fill="#0076AC"/>
<rect x="170" y="235" width="6" height="6" fill="#007EA1"/>
<rect x="176" y="235" width="36" height="6" fill="#0076AC"/>
<rect x="212" y="235" width="24" height="6" fill="#007EA1"/>
<rect x="236" y="235" width="12" height="6" fill="#008695"/>
<rect x="248" y="235" width="6" height="6" fill="#007EA1"/>
<rect x="254" y="235" width="7" height="6" fill="#0076AC"/>
<rect x="261" y="235" width="12" height="6" fill="#0878B7"/>
<rect x="273" y="235" width="12" height="6" fill="#1784C1"/>
<rect x="285" y="235" width="6" height="6" fill="#0878B7"/>
<rect x="291" y="235" width="6" height="6" fill="#0076AC"/>
<rect x="297" y="235" width="6" height="6" fill="#00967E"/>
<rect x="303" y="235" width="18" height="6" fill="#2CAB6A"/>
<rect x="321" y="235" width="12" height="6" fill="#009E73"/>
<rect x="37" y="241" width="12" height="6" fill="#009E73"/>
<rect x="49" y="241" width="12" height="6" fill="#00967E"/>
<rect x="61" y="241" width="12" height="6" fill="#008E8A"/>
<rect x="73" y="241" width="12" height="6" fill="#008695"/>
<rect x="85" y="241" width="12" height="6" fill="#007EA1"/>
<rect x="97" y="241" width="12" height="6" fill="#008695"/>
<rect x="109" y="241" width="7" height="6" fill="#007EA1"/>
<rect x="116" y="241" width="30" height="6" fill="#0076AC"/>
<rect x="146" y="241" width="12" height="6" fill="#0878B7"/>
<rect x="158" y="241" width="6" height="6" fill="#0076AC"/>
<rect x="164" y="241" width="18" height="6" fill="#007EA1"/>
<rect x="182" y="241" width="42" height="6" fill="#0076AC"/>
<rect x="224" y="241" width="30" height="6" fill="#007EA1"/>
<rect x="254" y="241" width="7" height="6" fill="#0076AC"/>
<rect x="261" y="241" width="12" height="6" fill="#0878B7"/>
<rect x="273" y="241" width="12" height="6" fill="#1784C1"/>
<rect x="285" y="241" width="6" height="6" fill="#0878B7"/>
<rect x="291" y="241" width="6" height="6" fill="#0076AC"/>
<rect x="297" y="241" width="6" height="6" fill="#008E8A"/>
<rect x="303" y="241" width="24" height="6" fill="#009E73"/>
<rect x="327" y="241" width="6" height="6" fill="#00967E"/>
<rect x="37" y="247" width="12" height="6" fill="#009E73"/>
<rect x="49" y="247" width="12" height="6" fill="#00967E"/>
<rect x="61" y="247" width="12" height="6" fill="#008E8A"/>
<rect x="73" y="247" width="12" height="6" fill="#008695"/>
<rect x="85" y="247" width="12" height="6" fill="#007EA1"/>
<rect x="97" y="247" width="6" height="6" fill="#008695"/>
<rect x="103" y="247" width="6" height="6" fill="#007EA1"/>
<rect x="109" y="247" width="37" height="6" fill="#0076AC"/>
<rect x="146" y="247" width="6" height="6" fill="#0878B7"/>
<rect x="152" y="247" width="36" height="6" fill="#0076AC"/>
<rect x="188" y="247" width="6" height="6" fill="#0878B7"/>
<rect x="194" y="247" width="6" height="6" fill="#1784C1"/>
<rect x="200" y="247" width="6" height="6" fill="#0878B7"/>
<rect x="206" y="247" width="18" height="6" fill="#1784C1"/>
<rect x="224" y="247" width="6" height="6" fill="#0878B7"/>
<rect x="230" y="247" width="6" height="6" fill="#0076AC"/>
<rect x="236" y="247" width="6" height="6" fill="#0878B7"/>
<rect x="242" y="247" width="6" height="6" fill="#0076AC"/>
<rect x="248" y="247" width="6" height="6" fill="#0878B7"/>
<rect x="254" y="247" width="7" height="6" fill="#1784C1"/>
<rect x="261" y="247" width="6" height="6" fill="#2790CB"/>
<rect x="267" y="247" width="24" height="6" fill="#1784C1"/>
<rect x="291" y="247" width="6" height="6" fill="#0878B7"/>
<rect x="297" y="247" width="6" height="6" fill="#0076AC"/>
<rect x="303" y="247" width="6" height="6" fill="#007EA1"/>
<rect x="309" y="247" width="12" height="6" fill="#008695"/>
<rect x="321" y="247" width="12" height="6" fill="#008E8A"/>
<rect x="37" y="253" width="6" height="6" fill="#2CAB6A"/>
<rect x="43" y="253" width="6" height="6" fill="#57B761"/>
<rect x="49" y="253" width="12" height="6" fill="#009E73"/>
<rect x="61" y="253" width="12" height="6" fill="#00967E"/>
<rect x="73" y="253" width="6" height="6" fill="#008E8A"/>
<rect x="79" y="253" width="24" height="6" fill="#008695"/>
<rect x="103" y="253" width="13" height="6" fill="#007EA1"/>
<rect x="116" y="253" width="6" height="6" fill="#0076AC"/>
<rect x="122" y="253" width="6" height="6" fill="#007EA1"/>
<rect x="128" y="253" width="6" height="6" fill="#0076AC"/>
<rect x="134" y="253" width="6" height="6" fill="#007EA1"/>
<rect x="140" y="253" width="6" height="6" fill="#0076AC"/>
<rect x="146" y="253" width="12" height="6" fill="#0878B7"/>
<rect x="158" y="253" width="6" height="6" fill="#0076AC"/>
<rect x="164" y="253" width="24" height="6" fill="#0878B7"/>
<rect x="188" y="253" width="6" height="6" fill="#1784C1"/>
<rect x="194" y="253" width="30" height="6" fill="#2790CB"/>
<rect x="224" y="253" width="6" height="6" fill="#1784C1"/>
<rect x="230" y="253" width="12" height="6" fill="#2790CB"/>
<rect x="242" y="253" width="12" height="6" fill="#1784C1"/>
<rect x="254" y="253" width="7" height="6" fill="#2790CB"/>
<rect x="261" y="253" width="6" height="6" fill="#379CD5"/>
<rect x="267" y="253" width="12" height="6" fill="#2790CB"/>
<rect x="279" y="253" width="24" height="6" fill="#1784C1"/>
<rect x="303" y="253" width="12" height="6" fill="#0878B7"/>
<rect x="315" y="253" width="6" height="6" fill="#0076AC"/>
<rect x="321" y="253" width="12" height="6" fill="#007EA1"/>
<rect x="37" y="259" width="6" height="6" fill="#57B761"/>
<rect x="43" y="259" width="6" height="6" fill="#83C458"/>
<rect x="49" y="259" width="6" height="6" fill="#2CAB6A"/>
<rect x="55" y="259" width="18" height="6" fill="#009E73"/>
<rect x="73" y="259" width="6" height="6" fill="#00967E"/>
<rect x="79" y="259" width="18" height="6" fill="#008E8A"/>
<rect x="97" y="259" width="12" height="6" fill="#008695"/>
<rect x="109" y="259" width="7" height="6" fill="#007EA1"/>
<rect x="116" y="259" width="6" height="6" fill="#0076AC"/>
<rect x="122" y="259" width="12" height="6" fill="#007EA1"/>
<rect x="134" y="259" width="18" height="6" fill="#0076AC"/>
<rect x="152" y="259" width="18" height="6" fill="#0878B7"/>
<rect x="170" y="259" width="12" height="6" fill="#1784C1"/>
<rect x="182" y="259" width="6" height="6" fill="#2790CB"/>
<rect x="188" y="259" width="24" height="6" fill="#379CD5"/>
<rect x="212" y="259" width="24" height="6" fill="#2790CB"/>
<rect x="236" y="259" width="37" height="6" fill="#379CD5"/>
<rect x="273" y="259" width="12" height="6" fill="#2790CB"/>
<rect x="285" y="259" width="12" height="6" fill="#1784C1"/>
<rect x="297" y="259" width="6" height="6" fill="#2790CB"/>
<rect x="303" y="259" width="12" height="6" fill="#1784C1"/>
<rect x="315" y="259" width="18" height="6" fill="#0878B7"/>
<rect x="37" y="265" width="6" height="6" fill="#57B761"/>
<rect x="43" y="265" width="6" height="6" fill="#2CAB6A"/>
<rect x="49" y="265" width="18" height="6" fill="#009E73"/>
<rect x="67" y="265" width="6" height="6" fill="#00967E"/>
<rect x="73" y="265" width="24" height="6" fill="#008E8A"/>
<rect x="97" y="265" width="12" height="6" fill="#008695"/>
<rect x="109" y="265" width="7" height="6" fill="#007EA1"/>
<rect x="116" y="265" width="24" height="6" fill="#0076AC"/>
<rect x="140" y="265" width="18" height="6" fill="#0878B7"/>
<rect x="158" y="265" width="12" height="6" fill="#1784C1"/>
<rect x="170" y="265" width="6" height="6" fill="#0878B7"/>
<rect x="176" y="265" width="6" height="6" fill="#1784C1"/>
<rect x="182" y="265" width="6" height="6" fill="#2790CB"/>
<rect x="188" y="265" width="24" height="6" fill="#46A8DF"/>
<rect x="212" y="265" width="12" height="6" fill="#379CD5"/>
<rect x="224" y="265" width="12" height="6" fill="#2790CB"/>
<rect x="236" y="265" width="37" height="6" fill="#379CD5"/>
<rect x="273" y="265" width="42" height="6" fill="#2790CB"/>
<rect x="315" y="265" width="18" height="6" fill="#1784C1"/>
<rect x="37" y="271" width="12" height="6" fill="#2CAB6A"/>
<rect x="49" y="271" width="12" height="6" fill="#009E73"/>
<rect x="61" y="271" width="18" height="6" fill="#00967E"/>
<rect x="79" y="271" width="18" height="6" fill="#008E8A"/>
<rect x="97" y="271" width="12" height="6" fill="#008695"/>
<rect x="109" y="271" width="7" height="6" fill="#007EA1"/>
<rect x="116" y="271" width="12" height="6" fill="#0076AC"/>
<rect x="128" y="271" width="30" height="6" fill="#0878B7"/>
<rect x="158" y="271" width="18" height="6" fill="#1784C1"/>
<rect x="176" y="271" width="6" height="6" fill="#2790CB"/>
<rect x="182" y="271" width="6" height="6" fill="#379CD5"/>
<rect x="188" y="271" width="30" height="6" fill="#46A8DF"/>
<rect x="218" y="271" width="55" height="6" fill="#379CD5"/>
<rect x="273" y="271" width="6" height="6" fill="#2790CB"/>
<rect x="279" y="271" width="12" height="6" fill="#379CD5"/>
<rect x="291" y="271" width="6" height="6" fill="#2790CB"/>
<rect x="297" y="271" width="18" height="6" fill="#379CD5"/>
<rect x="315" y="271" width="6" height="6" fill="#2790CB"/>
<rect x="321" y="271" width="6" height="6" fill="#379CD5"/>
<rect x="327" y="271" width="6" height="6" fill="#2790CB"/>
<rect x="37" y="277" width="24" height="7" fill="#009E73"/>
<rect x="61" y="277" width="6" height="7" fill="#00967E"/>
<rect x="67" y="277" width="18" height="7" fill="#009E73"/>
<rect x="85" y="277" width="6" height="7" fill="#00967E"/>
<rect x="91" y="277" width="6" height="7" fill="#008E8A"/>
<rect x="97" y="277" width="12" height="7" fill="#008695"/>
<rect x="109" y="277" width="7" height="7" fill="#007EA1"/>
<rect x="116" y="277" width="6" height="7" fill="#0076AC"/>
<rect x="122" y="277" width="6" height="7" fill="#0878B7"/>
<rect x="128" y="277" width="12" height="7" fill="#1784C1"/>
<rect x="140" y="277" width="18" height="7" fill="#0878B7"/>
<rect x="158" y="277" width="18" height="7" fill="#1784C1"/>
<rect x="176" y="277" width="12" height="7" fill="#2790CB"/>
<rect x="188" y="277" width="30" height="7" fill="#46A8DF"/>
<rect x="218" y="277" width="79" height="7" fill="#379CD5"/>
<rect x="297" y="277" width="12" height="7" fill="#46A8DF"/>
<rect x="309" y="277" width="6" height="7" fill="#379CD5"/>
<rect x="315" y="277" width="12" height="7" fill="#46A8DF"/>
<rect x="327" y="277" width="6" height="7" fill="#379CD5"/>
<rect x="37" y="284" width="6" height="6" fill="#009E73"/>
<rect x="43" y="284" width="6" height="6" fill="#2CAB6A"/>
<rect x="49" y="284" width="30" height="6" fill="#009E73"/>
<rect x="79" y="284" width="12" height="6" fill="#00967E"/>
<rect x="91" y="284" width="12" height="6" fill="#008E8A"/>
<rect x="103" y="284" width="6" height="6" fill="#008695"/>
<rect x="109" y="284" width="7" height="6" fill="#007EA1"/>
<rect x="116" y="284" width="12" height="6" fill="#0076AC"/>
<rect x="128" y="284" width="36" height="6" fill="#0878B7"/>
<rect x="164" y="284" width="12" height="6" fill="#1784C1"/>
<rect x="176" y="284" width="6" height="6" fill="#2790CB"/>
<rect x="182" y="284" width="6" height="6" fill="#379CD5"/>
<rect x="188" y="284" width="24" height="6" fill="#46A8DF"/>
<rect x="212" y="284" width="55" height="6" fill="#379CD5"/>
<rect x="267" y="284" width="12" height="6" fill="#46A8DF"/>
<rect x="279" y="284" width="6" height="6" fill="#379CD5"/>
<rect x="285" y="284" width="6" height="6" fill="#46A8DF"/>
<rect x="291" y="284" width="6" height="6" fill="#379CD5"/>
<rect x="297" y="284" width="36" height="6" fill="#46A8DF"/>
<rect x="37" y="290" width="36" height="6" fill="#009E73"/>
<rect x="73" y="290" width="30" height="6" fill="#00967E"/>
<rect x="103" y="290" width="6" height="6" fill="#008E8A"/>
<rect x="109" y="290" width="7" height="6" fill="#008695"/>
<rect x="116" y="290" width="6" height="6" fill="#007EA1"/>
<rect x="122" y="290" width="12" height="6" fill="#0076AC"/>
<rect x="134" y="290" width="30" height="6" fill="#0878B7"/>
<rect x="164" y="290" width="12" height="6" fill="#1784C1"/>
<rect x="176" y="290" width="6" height="6" fill="#379CD5"/>
<rect x="182" y="290" width="30" height="6" fill="#46A8DF"/>
<rect x="212" y="290" width="49" height="6" fill="#379CD5"/>
<rect x="261" y="290" width="72" height="6" fill="#46A8DF"/>
<rect x="37" y="296" width="6" height="6" fill="#2CAB6A"/>
<rect x="43" y="296" width="30" height="6" fill="#009E73"/>
<rect x="73" y="296" width="6" height="6" fill="#00967E"/>
<rect x="79" y="296" width="18" height="6" fill="#009E73"/>
<rect x="97" y="296" width="12" height="6" fill="#00967E"/>
<rect x="109" y="296" width="7" height="6" fill="#008E8A"/>
<rect x="116" y="296" width="6" height="6" fill="#008695"/>
<rect x="122" y="296" width="6" height="6" fill="#007EA1"/>
<rect x="128" y="296" width="30" height="6" fill="#0076AC"/>
<rect x="158" y="296" width="6" height="6" fill="#0878B7"/>
<rect x="164" y="296" width="12" height="6" fill="#1784C1"/>
<rect x="176" y="296" width="6" height="6" fill="#2790CB"/>
<rect x="182" y="296" width="6" height="6" fill="#379CD5"/>
<rect x="188" y="296" width="36" height="6" fill="#46A8DF"/>
<rect x="224" y="296" width="6" height="6" fill="#379CD5"/>
<rect x="230" y="296" width="18" height="6" fill="#46A8DF"/>
<rect x="248" y="296" width="13" height="6" fill="#379CD5"/>
<rect x="261" y="296" width="36" height="6" fill="#46A8DF"/>
<rect x="297" y="296" width="18" height="6" fill="#56B4E9"/>
<rect x="315" y="296" width="18" height="6" fill="#46A8DF"/>
<rect x="37" y="302" width="6" height="6" fill="#2CAB6A"/>
<rect x="43" y="302" width="73" height="6" fill="#009E73"/>
<rect x="116" y="302" width="6" height="6" fill="#00967E"/>
<rect x="122" y="302" width="6" height="6" fill="#008E8A"/>
<rect x="128" y="302" width="6" height="6" fill="#008695"/>
<rect x="134" y="302" width="12" height="6" fill="#007EA1"/>
<rect x="146" y="302" width="6" height="6" fill="#0076AC"/>
<rect x="152" y="302" width="18" height="6" fill="#0878B7"/>
<rect x="170" y="302" width="6" height="6" fill="#1784C1"/>
<rect x="176" y="302" width="6" height="6" fill="#2790CB"/>
<rect x="182" y="302" width="6" height="6" fill="#379CD5"/>
<rect x="188" y="302" width="66" height="6" fill="#46A8DF"/>
<rect x="254" y="302" width="7" height="6" fill="#379CD5"/>
<rect x="261" y="302" width="6" height="6" fill="#46A8DF"/>
<rect x="267" y="302" width="6" height="6" fill="#379CD5"/>
<rect x="273" y="302" width="60" height="6" fill="#46A8DF"/>
<rect x="37" y="308" width="6" height="6" fill="#2CAB6A"/>
<rect x="43" y="308" width="18" height="6" fill="#009E73"/>
<rect x="61" y="308" width="6" height="6" fill="#2CAB6A"/>
<rect x="67" y="308" width="18" height="6" fill="#009E73"/>
<rect x="85" y="308" width="6" height="6" fill="#00967E"/>
<rect x="91" y="308" width="12" height="6" fill="#009E73"/>
<rect x="103" y="308" width="13" height="6" fill="#2CAB6A"/>
<rect x="116" y="308" width="6" height="6" fill="#57B761"/>
<rect x="122" y="308" width="6" height="6" fill="#2CAB6A"/>
<rect x="128" y="308" width="6" height="6" fill="#008E8A"/>
<rect x="134" y="308" width="6" height="6" fill="#008695"/>
<rect x="140" y="308" width="6" height="6" fill="#007EA1"/>
<rect x="146" y="308" width="6" height="6" fill="#0076AC"/>
<rect x="152" y="308" width="18" height="6" fill="#0878B7"/>
<rect x="170" y="308" width="6" height="6" fill="#1784C1"/>
<rect x="176" y="308" width="6" height="6" fill="#2790CB"/>
<rect x="182" y="308" width="6" height="6" fill="#379CD5"/>
<rect x="188" y="308" width="6" height="6" fill="#46A8DF"/>
<rect x="194" y="308" width="6" height="6" fill="#379CD5"/>
<rect x="200" y="308" width="24" height="6" fill="#46A8DF"/>
<rect x="224" y="308" width="12" height="6" fill="#56B4E9"/>
<rect x="236" y="308" width="18" height="6" fill="#46A8DF"/>
<rect x="254" y="308" width="7" height="6" fill="#379CD5"/>
<rect x="261" y="308" width="6" height="6" fill="#46A8DF"/>
<rect x="267" y="308" width="12" height="6" fill="#379CD5"/>
<rect x="279" y="308" width="18" height="6" fill="#46A8DF"/>
<rect x="297" y="308" width="6" height="6" fill="#379CD5"/>
<rect x="303" y="308" width="30" height="6" fill="#46A8DF"/>
<rect x="37" y="314" width="6" height="6" fill="#2CAB6A"/>
<rect x="43" y="314" width="60" height="6" fill="#009E73"/>
<rect x="103" y="314" width="13" height="6" fill="#2CAB6A"/>
<rect x="116" y="314" width="12" height="6" fill="#83C458"/>
<rect x="128" y="314" width="6" height="6" fill="#2CAB6A"/>
<rect x="134" y="314" width="6" height="6" fill="#008E8A"/>
<rect x="140" y="314" width="6" height="6" fill="#007EA1"/>
<rect x="146" y="314" width="6" height="6" fill="#0076AC"/>
<rect x="152" y="314" width="18" height="6" fill="#0878B7"/>
<rect x="170" y="314" width="6" height="6" fill="#1784C1"/>
<rect x="176" y="314" width="6" height="6" fill="#2790CB"/>
<rect x="182" y="314" width="6" height="6" fill="#379CD5"/>
<rect x="188" y="314" width="6" height="6" fill="#46A8DF"/>
<rect x="194" y="314" width="6" height="6" fill="#379CD5"/>
<rect x="200" y="314" width="24" height="6" fill="#46A8DF"/>
<rect x="224" y="314" width="12" height="6" fill="#56B4E9"/>
<rect x="236" y="314" width="6" height="6" fill="#46A8DF"/>
<rect x="242" y="314" width="6" height="6" fill="#56B4E9"/>
<rect x="248" y="314" width="19" height="6" fill="#46A8DF"/>
<rect x="267" y="314" width="6" height="6" fill="#379CD5"/>
<rect x="273" y="314" width="60" height="6" fill="#46A8DF"/>
<rect x="37" y="320" width="24" height="6" fill="#009E73"/>
<rect x="61" y="320" width="6" height="6" fill="#00967E"/>
<rect x="67" y="320" width="6" height="6" fill="#009E73"/>
<rect x="73" y="320" width="12" height="6" fill="#2CAB6A"/>
<rect x="85" y="320" width="6" height="6" fill="#57B761"/>
<rect x="91" y="320" width="6" height="6" fill="#2CAB6A"/>
<rect x="97" y="320" width="6" height="6" fill="#009E73"/>
<rect x="103" y="320" width="13" height="6" fill="#2CAB6A"/>
<rect x="116" y="320" width="6" height="6" fill="#57B761"/>
<rect x="122" y="320" width="6" height="6" fill="#DADE46"/>
<rect x="128" y="320" width="6" height="6" fill="#AFD14F"/>
<rect x="134" y="320" width="6" height="6" fill="#00967E"/>
<rect x="140" y="320" width="6" height="6" fill="#008695"/>
<rect x="146" y="320" width="6" height="6" fill="#0076AC"/>
<rect x="152" y="320" width="6" height="6" fill="#0878B7"/>
<rect x="158" y="320" width="6" height="6" fill="#1784C1"/>
<rect x="164" y="320" width="6" height="6" fill="#0878B7"/>
<rect x="170" y="320" width="6" height="6" fill="#1784C1"/>
<rect x="176" y="320" width="6" height="6" fill="#2790CB"/>
<rect x="182" y="320" width="6" height="6" fill="#379CD5"/>
<rect x="188" y="320" width="30" height="6" fill="#46A8DF"/>
<rect x="218" y="320" width="6" height="6" fill="#56B4E9"/>
<rect x="224" y="320" width="6" height="6" fill="#46A8DF"/>
<rect x="230" y="320" width="24" height="6" fill="#56B4E9"/>
<rect x="254" y="320" width="49" height="6" fill="#46A8DF"/>
<rect x="303" y="320" width="12" height="6" fill="#379CD5"/>
<rect x="315" y="320" width="18" height="6" fill="#46A8DF"/>
<rect x="37" y="326" width="6" height="6" fill="#00967E"/>
<rect x="43" y="326" width="12" height="6" fill="#009E73"/>
<rect x="55" y="326" width="12" height="6" fill="#00967E"/>
<rect x="67" y="326" width="12" height="6" fill="#2CAB6A"/>
<rect x="79" y="326" width="12" height="6" fill="#83C458"/>
<rect x="91" y="326" width="25" height="6" fill="#2CAB6A"/>
<rect x="116" y="326" width="6" height="6" fill="#57B761"/>
<rect x="122" y="326" width="12" height="6" fill="#AFD14F"/>
<rect x="134" y="326" width="6" height="6" fill="#009E73"/>
<rect x="140" y="326" width="6" height="6" fill="#008695"/>
<rect x="146" y="326" width="6" height="6" fill="#0076AC"/>
<rect x="152" y="326" width="6" height="6" fill="#0878B7"/>
<rect x="158" y="326" width="18" height="6" fill="#1784C1"/>
<rect x="176" y="326" width="12" height="6" fill="#2790CB"/>
<rect x="188" y="326" width="6" height="6" fill="#379CD5"/>
<rect x="194" y="326" width="24" height="6" fill="#46A8DF"/>
<rect x="218" y="326" width="6" height="6" fill="#56B4E9"/>
<rect x="224" y="326" width="18" height="6" fill="#46A8DF"/>
<rect x="242" y="326" width="12" height="6" fill="#56B4E9"/>
<rect x="254" y="326" width="7" height="6" fill="#46A8DF"/>
<rect x="261" y="326" width="6" height="6" fill="#56B4E9"/>
<rect x="267" y="326" width="18" height="6" fill="#46A8DF"/>
<rect x="285" y="326" width="12" height="6" fill="#379CD5"/>
<rect x="297" y="326" width="18" height="6" fill="#46A8DF"/>
<rect x="315" y="326" width="18" height="6" fill="#379CD5"/></g>
<g id="bd" clip-path="url(#bx)"><path d="M28.0 31.4 L95.6 38.9 L123.6 41.0 M95.6 38.9 L96.6 28.0 M123.6 41.0 L122.7 59.4 L119.4 114.7 M122.7 59.4 L158.0 60.9 L188.0 61.5 L218.5 60.8 M28.0 106.1 L68.0 110.6 L105.5 114.1 L119.4 114.7 L158.0 116.2 L188.0 116.8 L229.1 115.6 M105.5 114.1 L104.6 123.2 L99.4 188.0 L98.5 206.5 M104.6 123.2 L149.3 125.5 L148.4 160.8 M148.4 160.8 L150.0 163.0 L151.8 163.6 L154.0 163.0 L156.0 164.5 L159.4 164.2 L160.0 166.5 L161.3 168.0 L165.0 168.2 L169.0 169.3 L172.0 169.0 L174.0 170.8 L178.5 170.9 L179.5 173.0 L180.4 174.7 L182.5 174.0 L184.2 173.1 L186.0 174.5 L188.0 176.2 L190.0 175.0 L191.8 174.7 L193.5 173.2 L195.6 173.7 L197.5 175.0 L199.4 174.7 L202.0 176.5 L205.1 177.5 L208.0 175.5 L212.8 173.7 L217.0 173.4 L222.3 172.4 L226.0 174.5 L229.0 176.6 L233.7 179.4 L240.4 179.8 M98.5 206.5 L41.3 201.7 L43.2 205.5 L28.0 204.2 M41.3 201.7 L43.2 205.5 L47.0 211.8 L51.5 217.0 L56.6 222.3 L62.0 226.0 L67.0 229.9 L68.3 234.0 L69.0 238.5 L70.9 245.1 L75.6 251.8 L80.0 254.5 L85.1 257.5 L89.0 260.5 L92.8 262.7 L95.5 261.0 L97.5 258.5 L100.0 253.5 L102.3 249.0 L105.0 247.5 L108.0 246.7 L111.8 248.6 L116.5 248.6 L121.3 249.0 L126.5 254.0 L131.8 259.4 L134.7 264.2 L137.5 271.0 L140.4 277.5 L143.5 282.0 L147.0 286.1 L152.8 291.8 L152.6 296.0 L152.8 299.4 L155.6 305.1 L157.0 309.0 L158.5 312.8 L163.2 315.6 L168.0 317.8 L172.8 319.4 L177.5 320.2 L180.0 320.6 M206.5 28.0 L209.9 34.7 L210.9 46.1 L213.7 50.9 L216.0 55.5 L218.5 60.4 L221.5 62.0 L224.2 63.8 L221.3 69.0 L223.5 72.5 L226.1 75.6 L229.0 76.6 M213.7 50.3 L268.0 47.0 L272.8 51.8 M229.0 76.6 L229.5 125.5 M229.5 125.5 L295.6 121.7 L298.5 126.1 L294.7 131.8 L303.2 131.2 M229.5 125.5 L233.7 144.2 L233.7 179.4 M286.1 28.0 L277.5 32.8 L279.4 39.4 L276.6 46.1 L272.8 48.0 L272.8 58.5 L277.5 66.1 L283.2 71.8 L286.1 77.5 L291.8 77.9 L293.7 81.3 L290.9 89.0 L296.6 94.7 L302.3 98.5 L306.1 104.2 L308.0 110.9 L310.9 111.8 L310.9 118.5 L306.1 120.4 L304.2 129.0 L303.8 132.0 L302.3 134.7 L300.0 138.0 L298.5 142.3 L299.0 146.0 L297.5 149.0 L295.0 153.5 L292.8 157.5 L293.0 159.5 L291.8 161.3 L289.0 165.5 L287.0 169.0 L287.3 173.0 L286.1 176.6 L285.5 178.5 L284.2 180.4 L285.8 182.3 L286.1 184.2 L285.1 188.0 L288.0 195.6 L289.9 201.3 L287.0 205.0 L285.1 209.0 L284.3 210.0 L282.0 214.7 L280.3 220.5 L280.8 225.2 M327.0 28.0 L329.9 68.0 L331.2 75.6 L329.0 83.2 L325.1 92.8 L324.8 97.5 M342.0 91.8 L338.5 92.8 L332.8 92.4 L328.0 94.7 L324.8 97.5 L324.2 101.3 L320.4 103.2 L319.4 107.0 L313.7 108.0 L310.9 111.8 M310.9 120.4 L328.0 118.5 L328.0 116.6 L342.0 115.2 M298.5 149.5 L329.9 147.0 L342.0 146.1 M329.9 147.0 L329.3 188.0 L331.0 210.0 L333.3 233.9 M240.4 189.0 L286.1 188.0 M240.4 179.8 L240.4 205.1 L242.3 210.0 L245.8 214.7 L247.8 218.5 L249.3 222.8 L249.9 227.5 L247.6 234.5 L248.2 241.5 L245.8 246.2 L244.7 250.8 M280.8 225.2 L310.6 223.4 L311.2 228.7 L314.7 238.6 M314.7 238.6 L318.2 235.1 L321.0 233.6 L324.0 232.8 L328.7 233.9 L333.3 233.9 L337.4 235.1 L338.6 228.7 L339.8 226.3 L341.5 231.6 L341.3 235.1 L337.4 235.1 M326.3 239.8 L327.3 245.0 M327.5 236.3 L331.0 236.3 M300.7 239.2 L303.6 235.7 L307.1 235.4 L311.2 237.4 L310.0 240.3 L306.5 242.1 L302.4 241.3 L300.7 239.2 M244.7 250.8 L250.5 249.7 L256.3 249.4 L262.2 251.4 L269.2 253.4 L273.8 252.6 L272.7 249.7 L276.2 247.6 L280.3 249.1 L277.9 250.8 L280.8 253.8 L283.2 250.8 L287.8 252.6 L288.4 256.1 L287.3 257.8 L290.2 257.8 L293.7 259.0 L297.2 259.9 L299.5 256.1 L303.0 254.9 L304.8 257.8 L307.7 256.7 L308.3 253.2 L305.9 251.4 L310.0 252.0 L314.7 254.9 L320.5 254.1 L324.0 254.9 L325.8 256.7 L323.4 258.4 L322.3 260.2 L320.5 261.3 L319.9 259.0 L321.7 256.7 L317.0 255.5 L313.5 252.6 L312.9 249.7 L316.4 246.2 L318.2 243.3 L316.4 240.9 L320.5 239.8 L314.7 238.6 M273.8 252.6 L276.5 251.6 L277.9 250.8 M244.7 250.8 L238.8 253.3 L232.6 256.4 L226.4 261.0 L218.7 267.2 L211.0 271.9 L203.2 277.3 L195.5 285.0 L189.3 294.3 L187.0 303.6 L189.3 312.9 L191.6 322.2 L190.1 331.5 L186.2 340.0 M228.5 258.5 L228.0 257.2 L226.4 251.7 L229.2 252.5 L231.9 251.0 L231.1 254.8 L230.0 256.8 M211.0 271.9 L206.3 271.1 L204.0 270.3 L203.2 273.4 L200.1 271.1 L200.9 275.7 L197.0 278.0 L193.9 281.1 L190.8 283.5 L189.3 288.1 L186.2 286.6 L187.0 290.4 L183.1 295.9 L185.4 297.4 L187.0 299.0 L186.2 303.6 L187.0 309.8 L189.3 319.1 L191.6 322.2 M180.0 320.6 L184.6 322.2 L187.0 325.3 L190.8 322.2 M180.0 335.3 L183.1 334.6 L184.6 332.2 L187.0 333.8 L185.4 340.0" fill="none" stroke="#000" stroke-width="0.82" stroke-linejoin="round"/></g>
<rect id="box" x="28.5" y="28.5" width="314" height="312" fill="none" stroke="#000" stroke-width="0.75"/>
</defs>
<g transform="translate(0,0)">
<use href="#r1"/>
<use href="#bd"/><use href="#box"/>
<text class="a" transform="translate(13.8,331.5) rotate(-90)">25.25</text>
<text class="a" transform="translate(13.8,294.4) rotate(-90)">27.25</text>
<text class="a" transform="translate(13.8,257.2) rotate(-90)">29.25</text>
<text class="a" transform="translate(13.8,220.1) rotate(-90)">31.25</text>
<text class="a" transform="translate(13.8,182.9) rotate(-90)">33.25</text>
<text class="a" transform="translate(13.8,145.8) rotate(-90)">35.25</text>
<text class="a" transform="translate(13.8,108.6) rotate(-90)">37.25</text>
<text class="a" transform="translate(13.8,71.4) rotate(-90)">39.25</text>
<text class="a" transform="translate(13.8,34.3) rotate(-90)">41.25</text>
<text class="ax" x="39.8" y="361.5">-106.5</text>
<text class="ax" x="104.7" y="361.5">-102.5</text>
<text class="ax" x="169.6" y="361.5">-98.5</text>
<text class="ax" x="202.1" y="361.5">-96.5</text>
<text class="ax" x="234.5" y="361.5">-94.5</text>
<text class="ax" x="267.0" y="361.5">-92.5</text>
<text class="ax" x="299.4" y="361.5">-90.5</text>
<text class="ax" x="331.9" y="361.5">-88.5</text>
<path d="M28.5 331.5h-6.5 M28.5 294.4h-6.5 M28.5 257.2h-6.5 M28.5 220.1h-6.5 M28.5 182.9h-6.5 M28.5 145.8h-6.5 M28.5 108.6h-6.5 M28.5 71.4h-6.5 M28.5 34.3h-6.5 M40.5 340.5v6.5 M73.0 340.5v6.5 M105.4 340.5v6.5 M137.9 340.5v6.5 M170.3 340.5v6.5 M202.8 340.5v6.5 M235.2 340.5v6.5 M267.7 340.5v6.5 M300.1 340.5v6.5 M332.6 340.5v6.5" stroke="#000" stroke-width="0.75" fill="none"/>
<text class="t" x="185" y="19">Model 1 (EMBER): O3_MDA8 on 08/12/2023</text>
<text class="s" x="185" y="379.5">Domain size: 49x49 | Max = 63 at (1, 16)</text>
<text class="s" x="185" y="391.5" xml:space="preserve">Mean: 41 |  Median: 42</text>
</g>
<g shape-rendering="crispEdges">
<rect x="390.5" y="319.99" width="8.0" height="5.51" fill="#E5E5E5"/>
<rect x="390.5" y="314.97" width="8.0" height="5.51" fill="#D7D7D7"/>
<rect x="390.5" y="309.96" width="8.0" height="5.51" fill="#C9C9C9"/>
<rect x="390.5" y="304.94" width="8.0" height="5.51" fill="#BCBCBC"/>
<rect x="390.5" y="299.93" width="8.0" height="5.51" fill="#AEAEAE"/>
<rect x="390.5" y="294.91" width="8.0" height="5.51" fill="#A0A0A0"/>
<rect x="390.5" y="289.90" width="8.0" height="5.51" fill="#939BA0"/>
<rect x="390.5" y="284.89" width="8.0" height="5.51" fill="#87A0AF"/>
<rect x="390.5" y="279.87" width="8.0" height="5.51" fill="#7BA5BD"/>
<rect x="390.5" y="274.86" width="8.0" height="5.51" fill="#6EAACC"/>
<rect x="390.5" y="269.84" width="8.0" height="5.51" fill="#62AFDA"/>
<rect x="390.5" y="264.83" width="8.0" height="5.51" fill="#56B4E9"/>
<rect x="390.5" y="259.81" width="8.0" height="5.51" fill="#46A8DF"/>
<rect x="390.5" y="254.80" width="8.0" height="5.51" fill="#379CD5"/>
<rect x="390.5" y="249.79" width="8.0" height="5.51" fill="#2790CB"/>
<rect x="390.5" y="244.77" width="8.0" height="5.51" fill="#1784C1"/>
<rect x="390.5" y="239.76" width="8.0" height="5.51" fill="#0878B7"/>
<rect x="390.5" y="234.74" width="8.0" height="5.51" fill="#0076AC"/>
<rect x="390.5" y="229.73" width="8.0" height="5.51" fill="#007EA1"/>
<rect x="390.5" y="224.71" width="8.0" height="5.51" fill="#008695"/>
<rect x="390.5" y="219.70" width="8.0" height="5.51" fill="#008E8A"/>
<rect x="390.5" y="214.69" width="8.0" height="5.51" fill="#00967E"/>
<rect x="390.5" y="209.67" width="8.0" height="5.51" fill="#009E73"/>
<rect x="390.5" y="204.66" width="8.0" height="5.51" fill="#2CAB6A"/>
<rect x="390.5" y="199.64" width="8.0" height="5.51" fill="#57B761"/>
<rect x="390.5" y="194.63" width="8.0" height="5.51" fill="#83C458"/>
<rect x="390.5" y="189.61" width="8.0" height="5.51" fill="#AFD14F"/>
<rect x="390.5" y="184.60" width="8.0" height="5.51" fill="#DADE46"/>
<rect x="390.5" y="179.59" width="8.0" height="5.51" fill="#EFDE3C"/>
<rect x="390.5" y="174.57" width="8.0" height="5.51" fill="#EDD130"/>
<rect x="390.5" y="169.56" width="8.0" height="5.51" fill="#EBC524"/>
<rect x="390.5" y="164.54" width="8.0" height="5.51" fill="#EAB818"/>
<rect x="390.5" y="159.53" width="8.0" height="5.51" fill="#E8AC0C"/>
<rect x="390.5" y="154.51" width="8.0" height="5.51" fill="#E69F00"/>
<rect x="390.5" y="149.50" width="8.0" height="5.51" fill="#E39300"/>
<rect x="390.5" y="144.49" width="8.0" height="5.51" fill="#E08700"/>
<rect x="390.5" y="139.47" width="8.0" height="5.51" fill="#DD7C00"/>
<rect x="390.5" y="134.46" width="8.0" height="5.51" fill="#DA7000"/>
<rect x="390.5" y="129.44" width="8.0" height="5.51" fill="#D76400"/>
<rect x="390.5" y="124.43" width="8.0" height="5.51" fill="#D4600F"/>
<rect x="390.5" y="119.41" width="8.0" height="5.51" fill="#D3652E"/>
<rect x="390.5" y="114.40" width="8.0" height="5.51" fill="#D16A4C"/>
<rect x="390.5" y="109.39" width="8.0" height="5.51" fill="#CF6F6A"/>
<rect x="390.5" y="104.37" width="8.0" height="5.51" fill="#CE7489"/>
<rect x="390.5" y="99.36" width="8.0" height="5.51" fill="#CC79A7"/>
<rect x="390.5" y="94.34" width="8.0" height="5.51" fill="#D56389"/>
<rect x="390.5" y="89.33" width="8.0" height="5.51" fill="#DF4D6A"/>
<rect x="390.5" y="84.31" width="8.0" height="5.51" fill="#E8374C"/>
<rect x="390.5" y="79.30" width="8.0" height="5.51" fill="#F1212E"/>
<rect x="390.5" y="74.29" width="8.0" height="5.51" fill="#FA0B0F"/>
<rect x="390.5" y="69.27" width="8.0" height="5.51" fill="#F70404"/>
<rect x="390.5" y="64.26" width="8.0" height="5.51" fill="#E60B0B"/>
<rect x="390.5" y="59.24" width="8.0" height="5.51" fill="#D61313"/>
<rect x="390.5" y="54.23" width="8.0" height="5.51" fill="#C61B1B"/>
<rect x="390.5" y="49.21" width="8.0" height="5.51" fill="#B52222"/>
<rect x="390.5" y="44.20" width="8.0" height="5.51" fill="#A52A2A"/>
</g>
<rect x="390.5" y="44.2" width="8.0" height="280.8" fill="none" stroke="#000" stroke-width="0.75"/>
<text class="c" x="410.0" y="51.0">120</text>
<text class="c" x="410.0" y="74.0">110</text>
<text class="c" x="410.0" y="97.0">100</text>
<text class="c" x="410.0" y="120.0">90</text>
<text class="c" x="410.0" y="143.0">80</text>
<text class="c" x="410.0" y="166.0">70</text>
<text class="c" x="410.0" y="189.0">60</text>
<text class="c" x="410.0" y="212.0">50</text>
<text class="c" x="410.0" y="235.0">40</text>
<text class="c" x="410.0" y="258.0">30</text>
<text class="c" x="410.0" y="281.0">20</text>
<text class="c" x="410.0" y="304.0">10</text>
<text class="c" x="410.0" y="327.0">0</text>
<path d="M398.5 46.5h6.5 M398.5 69.5h6.5 M398.5 92.5h6.5 M398.5 115.5h6.5 M398.5 138.5h6.5 M398.5 161.5h6.5 M398.5 184.5h6.5 M398.5 207.5h6.5 M398.5 230.5h6.5 M398.5 253.5h6.5 M398.5 276.5h6.5 M398.5 299.5h6.5 M398.5 322.5h6.5" stroke="#000" stroke-width="0.75" fill="none"/>
<text class="u" x="394.2" y="41.6">ppbV</text>
<g transform="translate(450,0)">
<use href="#r1"/>
<use href="#bd"/><use href="#box"/>
<text class="a" transform="translate(13.8,331.5) rotate(-90)">25.25</text>
<text class="a" transform="translate(13.8,294.4) rotate(-90)">27.25</text>
<text class="a" transform="translate(13.8,257.2) rotate(-90)">29.25</text>
<text class="a" transform="translate(13.8,220.1) rotate(-90)">31.25</text>
<text class="a" transform="translate(13.8,182.9) rotate(-90)">33.25</text>
<text class="a" transform="translate(13.8,145.8) rotate(-90)">35.25</text>
<text class="a" transform="translate(13.8,108.6) rotate(-90)">37.25</text>
<text class="a" transform="translate(13.8,71.4) rotate(-90)">39.25</text>
<text class="a" transform="translate(13.8,34.3) rotate(-90)">41.25</text>
<text class="ax" x="39.8" y="361.5">-106.5</text>
<text class="ax" x="104.7" y="361.5">-102.5</text>
<text class="ax" x="169.6" y="361.5">-98.5</text>
<text class="ax" x="202.1" y="361.5">-96.5</text>
<text class="ax" x="234.5" y="361.5">-94.5</text>
<text class="ax" x="267.0" y="361.5">-92.5</text>
<text class="ax" x="299.4" y="361.5">-90.5</text>
<text class="ax" x="331.9" y="361.5">-88.5</text>
<path d="M28.5 331.5h-6.5 M28.5 294.4h-6.5 M28.5 257.2h-6.5 M28.5 220.1h-6.5 M28.5 182.9h-6.5 M28.5 145.8h-6.5 M28.5 108.6h-6.5 M28.5 71.4h-6.5 M28.5 34.3h-6.5 M40.5 340.5v6.5 M73.0 340.5v6.5 M105.4 340.5v6.5 M137.9 340.5v6.5 M170.3 340.5v6.5 M202.8 340.5v6.5 M235.2 340.5v6.5 M267.7 340.5v6.5 M300.1 340.5v6.5 M332.6 340.5v6.5" stroke="#000" stroke-width="0.75" fill="none"/>
<text class="t" x="185" y="19">Model 2 (ZeroFires): O3_MDA8 on 08/12/2023</text>
<text class="s" x="185" y="379.5">Domain size: 49x49 | Max = 63 at (1, 16)</text>
<text class="s" x="185" y="391.5" xml:space="preserve">Mean: 41 |  Median: 42</text>
</g>
<g shape-rendering="crispEdges">
<rect x="840.5" y="319.99" width="8.0" height="5.51" fill="#E5E5E5"/>
<rect x="840.5" y="314.97" width="8.0" height="5.51" fill="#D7D7D7"/>
<rect x="840.5" y="309.96" width="8.0" height="5.51" fill="#C9C9C9"/>
<rect x="840.5" y="304.94" width="8.0" height="5.51" fill="#BCBCBC"/>
<rect x="840.5" y="299.93" width="8.0" height="5.51" fill="#AEAEAE"/>
<rect x="840.5" y="294.91" width="8.0" height="5.51" fill="#A0A0A0"/>
<rect x="840.5" y="289.90" width="8.0" height="5.51" fill="#939BA0"/>
<rect x="840.5" y="284.89" width="8.0" height="5.51" fill="#87A0AF"/>
<rect x="840.5" y="279.87" width="8.0" height="5.51" fill="#7BA5BD"/>
<rect x="840.5" y="274.86" width="8.0" height="5.51" fill="#6EAACC"/>
<rect x="840.5" y="269.84" width="8.0" height="5.51" fill="#62AFDA"/>
<rect x="840.5" y="264.83" width="8.0" height="5.51" fill="#56B4E9"/>
<rect x="840.5" y="259.81" width="8.0" height="5.51" fill="#46A8DF"/>
<rect x="840.5" y="254.80" width="8.0" height="5.51" fill="#379CD5"/>
<rect x="840.5" y="249.79" width="8.0" height="5.51" fill="#2790CB"/>
<rect x="840.5" y="244.77" width="8.0" height="5.51" fill="#1784C1"/>
<rect x="840.5" y="239.76" width="8.0" height="5.51" fill="#0878B7"/>
<rect x="840.5" y="234.74" width="8.0" height="5.51" fill="#0076AC"/>
<rect x="840.5" y="229.73" width="8.0" height="5.51" fill="#007EA1"/>
<rect x="840.5" y="224.71" width="8.0" height="5.51" fill="#008695"/>
<rect x="840.5" y="219.70" width="8.0" height="5.51" fill="#008E8A"/>
<rect x="840.5" y="214.69" width="8.0" height="5.51" fill="#00967E"/>
<rect x="840.5" y="209.67" width="8.0" height="5.51" fill="#009E73"/>
<rect x="840.5" y="204.66" width="8.0" height="5.51" fill="#2CAB6A"/>
<rect x="840.5" y="199.64" width="8.0" height="5.51" fill="#57B761"/>
<rect x="840.5" y="194.63" width="8.0" height="5.51" fill="#83C458"/>
<rect x="840.5" y="189.61" width="8.0" height="5.51" fill="#AFD14F"/>
<rect x="840.5" y="184.60" width="8.0" height="5.51" fill="#DADE46"/>
<rect x="840.5" y="179.59" width="8.0" height="5.51" fill="#EFDE3C"/>
<rect x="840.5" y="174.57" width="8.0" height="5.51" fill="#EDD130"/>
<rect x="840.5" y="169.56" width="8.0" height="5.51" fill="#EBC524"/>
<rect x="840.5" y="164.54" width="8.0" height="5.51" fill="#EAB818"/>
<rect x="840.5" y="159.53" width="8.0" height="5.51" fill="#E8AC0C"/>
<rect x="840.5" y="154.51" width="8.0" height="5.51" fill="#E69F00"/>
<rect x="840.5" y="149.50" width="8.0" height="5.51" fill="#E39300"/>
<rect x="840.5" y="144.49" width="8.0" height="5.51" fill="#E08700"/>
<rect x="840.5" y="139.47" width="8.0" height="5.51" fill="#DD7C00"/>
<rect x="840.5" y="134.46" width="8.0" height="5.51" fill="#DA7000"/>
<rect x="840.5" y="129.44" width="8.0" height="5.51" fill="#D76400"/>
<rect x="840.5" y="124.43" width="8.0" height="5.51" fill="#D4600F"/>
<rect x="840.5" y="119.41" width="8.0" height="5.51" fill="#D3652E"/>
<rect x="840.5" y="114.40" width="8.0" height="5.51" fill="#D16A4C"/>
<rect x="840.5" y="109.39" width="8.0" height="5.51" fill="#CF6F6A"/>
<rect x="840.5" y="104.37" width="8.0" height="5.51" fill="#CE7489"/>
<rect x="840.5" y="99.36" width="8.0" height="5.51" fill="#CC79A7"/>
<rect x="840.5" y="94.34" width="8.0" height="5.51" fill="#D56389"/>
<rect x="840.5" y="89.33" width="8.0" height="5.51" fill="#DF4D6A"/>
<rect x="840.5" y="84.31" width="8.0" height="5.51" fill="#E8374C"/>
<rect x="840.5" y="79.30" width="8.0" height="5.51" fill="#F1212E"/>
<rect x="840.5" y="74.29" width="8.0" height="5.51" fill="#FA0B0F"/>
<rect x="840.5" y="69.27" width="8.0" height="5.51" fill="#F70404"/>
<rect x="840.5" y="64.26" width="8.0" height="5.51" fill="#E60B0B"/>
<rect x="840.5" y="59.24" width="8.0" height="5.51" fill="#D61313"/>
<rect x="840.5" y="54.23" width="8.0" height="5.51" fill="#C61B1B"/>
<rect x="840.5" y="49.21" width="8.0" height="5.51" fill="#B52222"/>
<rect x="840.5" y="44.20" width="8.0" height="5.51" fill="#A52A2A"/>
</g>
<rect x="840.5" y="44.2" width="8.0" height="280.8" fill="none" stroke="#000" stroke-width="0.75"/>
<text class="c" x="860.0" y="51.0">120</text>
<text class="c" x="860.0" y="74.0">110</text>
<text class="c" x="860.0" y="97.0">100</text>
<text class="c" x="860.0" y="120.0">90</text>
<text class="c" x="860.0" y="143.0">80</text>
<text class="c" x="860.0" y="166.0">70</text>
<text class="c" x="860.0" y="189.0">60</text>
<text class="c" x="860.0" y="212.0">50</text>
<text class="c" x="860.0" y="235.0">40</text>
<text class="c" x="860.0" y="258.0">30</text>
<text class="c" x="860.0" y="281.0">20</text>
<text class="c" x="860.0" y="304.0">10</text>
<text class="c" x="860.0" y="327.0">0</text>
<path d="M848.5 46.5h6.5 M848.5 69.5h6.5 M848.5 92.5h6.5 M848.5 115.5h6.5 M848.5 138.5h6.5 M848.5 161.5h6.5 M848.5 184.5h6.5 M848.5 207.5h6.5 M848.5 230.5h6.5 M848.5 253.5h6.5 M848.5 276.5h6.5 M848.5 299.5h6.5 M848.5 322.5h6.5" stroke="#000" stroke-width="0.75" fill="none"/>
<text class="u" x="844.2" y="41.6">ppbV</text>
<g transform="translate(0,420)">
<rect x="37" y="37" width="296" height="295" fill="#E5E5E5" shape-rendering="crispEdges"/><g shape-rendering="crispEdges"><rect x="212" y="91" width="12" height="6" fill="#E6E5D9"/>
<rect x="261" y="91" width="6" height="6" fill="#E6E5D9"/>
<rect x="267" y="91" width="6" height="6" fill="#E6E5D4"/>
<rect x="273" y="91" width="6" height="6" fill="#E6E5D9"/>
<rect x="212" y="97" width="12" height="6" fill="#E6E5D9"/>
<rect x="194" y="109" width="12" height="6" fill="#E6E5D4"/>
<rect x="218" y="109" width="6" height="6" fill="#E6E5D4"/>
<rect x="170" y="115" width="18" height="6" fill="#E7E5CE"/>
<rect x="188" y="115" width="6" height="6" fill="#E5E5DF"/>
<rect x="194" y="115" width="12" height="6" fill="#E7E5CE"/>
<rect x="261" y="115" width="6" height="6" fill="#E6E5D9"/>
<rect x="152" y="121" width="12" height="6" fill="#E7E5CE"/>
<rect x="164" y="121" width="6" height="6" fill="#E5E5DF"/>
<rect x="170" y="121" width="6" height="6" fill="#E7E5CE"/>
<rect x="176" y="121" width="6" height="6" fill="#E7E5C8"/>
<rect x="182" y="121" width="6" height="6" fill="#E9E5B1"/>
<rect x="188" y="121" width="6" height="6" fill="#E8E5BC"/>
<rect x="194" y="121" width="12" height="6" fill="#E7E5CE"/>
<rect x="140" y="127" width="12" height="6" fill="#E6E5D4"/>
<rect x="152" y="127" width="6" height="6" fill="#E5E5DF"/>
<rect x="170" y="127" width="6" height="6" fill="#E7E5CE"/>
<rect x="176" y="127" width="6" height="6" fill="#E8E5B6"/>
<rect x="182" y="127" width="6" height="6" fill="#E9E5B1"/>
<rect x="188" y="127" width="6" height="6" fill="#E8E5BC"/>
<rect x="194" y="127" width="12" height="6" fill="#E7E5CE"/>
<rect x="140" y="133" width="12" height="6" fill="#E6E5D4"/>
<rect x="170" y="133" width="6" height="6" fill="#E5E5DF"/>
<rect x="176" y="133" width="6" height="6" fill="#E8E5B6"/>
<rect x="182" y="133" width="6" height="6" fill="#E9E5A5"/>
<rect x="188" y="133" width="6" height="6" fill="#E8E5BC"/>
<rect x="194" y="133" width="12" height="6" fill="#E7E5CE"/>
<rect x="248" y="133" width="6" height="6" fill="#E5E5DF"/>
<rect x="254" y="133" width="7" height="6" fill="#E7E5C8"/>
<rect x="164" y="139" width="6" height="6" fill="#E5E5DF"/>
<rect x="170" y="139" width="6" height="6" fill="#E6E5D9"/>
<rect x="176" y="139" width="6" height="6" fill="#E8E5B6"/>
<rect x="182" y="139" width="6" height="6" fill="#E9E5A5"/>
<rect x="188" y="139" width="6" height="6" fill="#E8E5BC"/>
<rect x="194" y="139" width="12" height="6" fill="#E7E5CE"/>
<rect x="248" y="139" width="6" height="6" fill="#E7E5CE"/>
<rect x="254" y="139" width="7" height="6" fill="#E7E5C8"/>
<rect x="261" y="139" width="6" height="6" fill="#E5E5DF"/>
<rect x="158" y="145" width="6" height="6" fill="#E5E5DF"/>
<rect x="164" y="145" width="6" height="6" fill="#E8E5B6"/>
<rect x="170" y="145" width="6" height="6" fill="#EAE599"/>
<rect x="176" y="145" width="12" height="6" fill="#E9E5B1"/>
<rect x="188" y="145" width="6" height="6" fill="#E8E5BC"/>
<rect x="194" y="145" width="6" height="6" fill="#E7E5CE"/>
<rect x="200" y="145" width="6" height="6" fill="#E6E5D4"/>
<rect x="248" y="145" width="6" height="6" fill="#E7E5CE"/>
<rect x="254" y="145" width="7" height="6" fill="#E7E5C2"/>
<rect x="261" y="145" width="6" height="6" fill="#E5E5DF"/>
<rect x="158" y="151" width="6" height="6" fill="#E5E5DF"/>
<rect x="164" y="151" width="6" height="6" fill="#E9E5B1"/>
<rect x="170" y="151" width="6" height="6" fill="#EAE599"/>
<rect x="176" y="151" width="12" height="6" fill="#E9E5B1"/>
<rect x="188" y="151" width="6" height="6" fill="#E8E5BC"/>
<rect x="194" y="151" width="6" height="6" fill="#E5E5DF"/>
<rect x="248" y="151" width="6" height="6" fill="#E5E5DF"/>
<rect x="254" y="151" width="7" height="6" fill="#E8E5B6"/>
<rect x="261" y="151" width="6" height="6" fill="#E5E5DF"/>
<rect x="158" y="157" width="6" height="6" fill="#E5E5DF"/>
<rect x="164" y="157" width="6" height="6" fill="#E9E5B1"/>
<rect x="170" y="157" width="6" height="6" fill="#EAE599"/>
<rect x="176" y="157" width="6" height="6" fill="#E8E5B6"/>
<rect x="182" y="157" width="6" height="6" fill="#E6E5D9"/>
<rect x="188" y="157" width="6" height="6" fill="#E7E5C2"/>
<rect x="194" y="157" width="6" height="6" fill="#E5E5DF"/>
<rect x="254" y="157" width="7" height="6" fill="#E5E5DF"/>
<rect x="158" y="163" width="6" height="6" fill="#E5E5DF"/>
<rect x="164" y="163" width="6" height="6" fill="#E8E5B6"/>
<rect x="170" y="163" width="6" height="6" fill="#EAE599"/>
<rect x="176" y="163" width="6" height="6" fill="#E6E5D9"/>
<rect x="158" y="169" width="6" height="6" fill="#E5E5DF"/>
<rect x="164" y="169" width="12" height="6" fill="#E8E5B6"/>
<rect x="176" y="169" width="6" height="6" fill="#E5E5DF"/>
<rect x="164" y="175" width="6" height="6" fill="#E7E5CE"/>
<rect x="170" y="175" width="6" height="6" fill="#E5E5DF"/>
<rect x="327" y="175" width="6" height="6" fill="#E6E5D9"/>
<rect x="303" y="181" width="6" height="6" fill="#E6E5D9"/>
<rect x="309" y="181" width="6" height="6" fill="#E6E5D4"/>
<rect x="315" y="181" width="12" height="6" fill="#E7E5CE"/>
<rect x="327" y="181" width="6" height="6" fill="#E6E5D9"/>
<rect x="303" y="187" width="12" height="6" fill="#E6E5D4"/>
<rect x="315" y="187" width="12" height="6" fill="#E7E5CE"/>
<rect x="327" y="187" width="6" height="6" fill="#E6E5D4"/>
<rect x="303" y="193" width="12" height="6" fill="#E6E5D4"/>
<rect x="315" y="193" width="12" height="6" fill="#E7E5CE"/>
<rect x="327" y="193" width="6" height="6" fill="#E6E5D4"/>
<rect x="297" y="199" width="36" height="6" fill="#E6E5D9"/>
<rect x="297" y="205" width="36" height="6" fill="#E6E5D9"/>
<rect x="254" y="211" width="7" height="6" fill="#E5E5DF"/>
<rect x="261" y="211" width="12" height="6" fill="#E6E5D4"/>
<rect x="297" y="211" width="30" height="6" fill="#E6E5D9"/>
<rect x="327" y="211" width="6" height="6" fill="#E6E5D4"/>
<rect x="242" y="217" width="12" height="6" fill="#E5E5DF"/>
<rect x="254" y="217" width="13" height="6" fill="#E7E5CE"/>
<rect x="315" y="217" width="18" height="6" fill="#E7E5CE"/>
<rect x="236" y="223" width="6" height="6" fill="#E5E5DF"/>
<rect x="242" y="223" width="19" height="6" fill="#E8E5B6"/>
<rect x="261" y="223" width="6" height="6" fill="#E5E5DF"/>
<rect x="315" y="223" width="6" height="6" fill="#E7E5CE"/>
<rect x="321" y="223" width="12" height="6" fill="#E7E5C2"/>
<rect x="236" y="229" width="6" height="6" fill="#E5E5DF"/>
<rect x="242" y="229" width="6" height="6" fill="#E8E5B6"/>
<rect x="248" y="229" width="6" height="6" fill="#E9E5B1"/>
<rect x="254" y="229" width="7" height="6" fill="#E8E5B6"/>
<rect x="261" y="229" width="6" height="6" fill="#E5E5DF"/>
<rect x="315" y="229" width="6" height="6" fill="#E7E5CE"/>
<rect x="321" y="229" width="12" height="6" fill="#E7E5C8"/>
<rect x="236" y="235" width="6" height="6" fill="#E5E5DF"/>
<rect x="242" y="235" width="12" height="6" fill="#E9E5B1"/>
<rect x="254" y="235" width="7" height="6" fill="#E8E5B6"/>
<rect x="261" y="235" width="6" height="6" fill="#E5E5DF"/>
<rect x="267" y="235" width="12" height="6" fill="#E6E5D4"/>
<rect x="327" y="235" width="6" height="6" fill="#E5E5DF"/>
<rect x="236" y="241" width="6" height="6" fill="#E5E5DF"/>
<rect x="242" y="241" width="6" height="6" fill="#EAE59F"/>
<rect x="248" y="241" width="6" height="6" fill="#E9E5A5"/>
<rect x="254" y="241" width="7" height="6" fill="#E5E5DF"/>
<rect x="267" y="241" width="12" height="6" fill="#E6E5D4"/>
<rect x="236" y="247" width="6" height="6" fill="#E5E5DF"/>
<rect x="242" y="247" width="12" height="6" fill="#E7E5C2"/>
<rect x="254" y="247" width="7" height="6" fill="#E5E5DF"/></g>
<use href="#bd"/><use href="#box"/>
<text class="t" x="185" y="19">Model 1 - Model 2: O3_MDA8</text>
<text class="s" x="185" y="379.5">Min = -0.302 | Max = 3.81</text>
<text class="s" x="185" y="391.5" xml:space="preserve">Mean: 0.184 |  Median: 0.115</text>
</g>
<g shape-rendering="crispEdges">
<rect x="390.5" y="741.11" width="8.0" height="4.89" fill="#E5E5E5"/>
<rect x="390.5" y="736.71" width="8.0" height="4.89" fill="#E6E5D8"/>
<rect x="390.5" y="732.32" width="8.0" height="4.89" fill="#E7E5CB"/>
<rect x="390.5" y="727.92" width="8.0" height="4.89" fill="#E8E5BE"/>
<rect x="390.5" y="723.53" width="8.0" height="4.89" fill="#E8E5B1"/>
<rect x="390.5" y="719.14" width="8.0" height="4.89" fill="#E9E5A4"/>
<rect x="390.5" y="714.74" width="8.0" height="4.89" fill="#EAE597"/>
<rect x="390.5" y="710.35" width="8.0" height="4.89" fill="#EBE48A"/>
<rect x="390.5" y="705.96" width="8.0" height="4.89" fill="#ECE47E"/>
<rect x="390.5" y="701.56" width="8.0" height="4.89" fill="#EDE471"/>
<rect x="390.5" y="697.17" width="8.0" height="4.89" fill="#EEE464"/>
<rect x="390.5" y="692.77" width="8.0" height="4.89" fill="#EFE457"/>
<rect x="390.5" y="688.38" width="8.0" height="4.89" fill="#EFE44A"/>
<rect x="390.5" y="683.99" width="8.0" height="4.89" fill="#F0E240"/>
<rect x="390.5" y="679.59" width="8.0" height="4.89" fill="#EFDC3B"/>
<rect x="390.5" y="675.20" width="8.0" height="4.89" fill="#EED735"/>
<rect x="390.5" y="670.81" width="8.0" height="4.89" fill="#EDD130"/>
<rect x="390.5" y="666.41" width="8.0" height="4.89" fill="#EDCC2B"/>
<rect x="390.5" y="662.02" width="8.0" height="4.89" fill="#ECC626"/>
<rect x="390.5" y="657.62" width="8.0" height="4.89" fill="#EBC120"/>
<rect x="390.5" y="653.23" width="8.0" height="4.89" fill="#EABB1B"/>
<rect x="390.5" y="648.84" width="8.0" height="4.89" fill="#E9B616"/>
<rect x="390.5" y="644.44" width="8.0" height="4.89" fill="#E9B111"/>
<rect x="390.5" y="640.05" width="8.0" height="4.89" fill="#E8AB0C"/>
<rect x="390.5" y="635.66" width="8.0" height="4.89" fill="#E7A606"/>
<rect x="390.5" y="631.26" width="8.0" height="4.89" fill="#E6A001"/>
<rect x="390.5" y="626.87" width="8.0" height="4.89" fill="#E59B00"/>
<rect x="390.5" y="622.48" width="8.0" height="4.89" fill="#E49600"/>
<rect x="390.5" y="618.08" width="8.0" height="4.89" fill="#E29100"/>
<rect x="390.5" y="613.69" width="8.0" height="4.89" fill="#E18B00"/>
<rect x="390.5" y="609.29" width="8.0" height="4.89" fill="#E08600"/>
<rect x="390.5" y="604.90" width="8.0" height="4.89" fill="#DE8100"/>
<rect x="390.5" y="600.51" width="8.0" height="4.89" fill="#DD7C00"/>
<rect x="390.5" y="596.11" width="8.0" height="4.89" fill="#DB7700"/>
<rect x="390.5" y="591.72" width="8.0" height="4.89" fill="#DA7200"/>
<rect x="390.5" y="587.33" width="8.0" height="4.89" fill="#D96C00"/>
<rect x="390.5" y="582.93" width="8.0" height="4.89" fill="#D76700"/>
<rect x="390.5" y="578.54" width="8.0" height="4.89" fill="#D66200"/>
<rect x="390.5" y="574.14" width="8.0" height="4.89" fill="#D55E03"/>
<rect x="390.5" y="569.75" width="8.0" height="4.89" fill="#D46110"/>
<rect x="390.5" y="565.36" width="8.0" height="4.89" fill="#D3631D"/>
<rect x="390.5" y="560.96" width="8.0" height="4.89" fill="#D3652A"/>
<rect x="390.5" y="556.57" width="8.0" height="4.89" fill="#D26738"/>
<rect x="390.5" y="552.17" width="8.0" height="4.89" fill="#D16945"/>
<rect x="390.5" y="547.78" width="8.0" height="4.89" fill="#D16B52"/>
<rect x="390.5" y="543.39" width="8.0" height="4.89" fill="#D06D5F"/>
<rect x="390.5" y="538.99" width="8.0" height="4.89" fill="#CF706D"/>
<rect x="390.5" y="534.60" width="8.0" height="4.89" fill="#CE727A"/>
<rect x="390.5" y="530.21" width="8.0" height="4.89" fill="#CE7487"/>
<rect x="390.5" y="525.81" width="8.0" height="4.89" fill="#CD7694"/>
<rect x="390.5" y="521.42" width="8.0" height="4.89" fill="#CC78A2"/>
<rect x="390.5" y="517.02" width="8.0" height="4.89" fill="#CE739F"/>
<rect x="390.5" y="512.63" width="8.0" height="4.89" fill="#D26A92"/>
<rect x="390.5" y="508.24" width="8.0" height="4.89" fill="#D76085"/>
<rect x="390.5" y="503.84" width="8.0" height="4.89" fill="#DB5677"/>
<rect x="390.5" y="499.45" width="8.0" height="4.89" fill="#DF4D6A"/>
<rect x="390.5" y="495.06" width="8.0" height="4.89" fill="#E3435D"/>
<rect x="390.5" y="490.66" width="8.0" height="4.89" fill="#E73A50"/>
<rect x="390.5" y="486.27" width="8.0" height="4.89" fill="#EB3042"/>
<rect x="390.5" y="481.88" width="8.0" height="4.89" fill="#EF2635"/>
<rect x="390.5" y="477.48" width="8.0" height="4.89" fill="#F31D28"/>
<rect x="390.5" y="473.09" width="8.0" height="4.89" fill="#F7131B"/>
<rect x="390.5" y="468.69" width="8.0" height="4.89" fill="#FB0A0D"/>
<rect x="390.5" y="464.30" width="8.0" height="4.89" fill="#FF0000"/>
</g>
<rect x="390.5" y="464.3" width="8.0" height="281.2" fill="none" stroke="#000" stroke-width="0.75"/>
<text class="c" x="410.0" y="470.8">35</text>
<text class="c" x="410.0" y="510.4">30</text>
<text class="c" x="410.0" y="549.9">25</text>
<text class="c" x="410.0" y="589.5">20</text>
<text class="c" x="410.0" y="629.1">15</text>
<text class="c" x="410.0" y="668.6">10</text>
<text class="c" x="410.0" y="708.2">5</text>
<text class="c" x="410.0" y="747.8">0</text>
<path d="M398.5 466.3h6.5 M398.5 505.9h6.5 M398.5 545.4h6.5 M398.5 585.0h6.5 M398.5 624.6h6.5 M398.5 664.1h6.5 M398.5 703.7h6.5 M398.5 743.3h6.5" stroke="#000" stroke-width="0.75" fill="none"/>
<text class="u" x="394.2" y="461.6">ppbV</text>
<g transform="translate(450,420)">
<rect x="37" y="37" width="296" height="295" fill="#E5E5E5" shape-rendering="crispEdges"/><g shape-rendering="crispEdges"><rect x="218" y="85" width="6" height="6" fill="#E6E5D5"/>
<rect x="152" y="121" width="6" height="6" fill="#E6E5D9"/>
<rect x="182" y="121" width="6" height="6" fill="#E5E5E1"/>
<rect x="176" y="127" width="18" height="6" fill="#E6E5D1"/>
<rect x="170" y="133" width="6" height="6" fill="#E5E5E1"/>
<rect x="176" y="133" width="6" height="6" fill="#E6E5D1"/>
<rect x="182" y="133" width="6" height="6" fill="#E7E5CD"/>
<rect x="188" y="133" width="6" height="6" fill="#E6E5D1"/>
<rect x="194" y="133" width="6" height="6" fill="#E5E5E1"/>
<rect x="164" y="139" width="12" height="6" fill="#E5E5E1"/>
<rect x="176" y="139" width="12" height="6" fill="#E7E5CD"/>
<rect x="188" y="139" width="6" height="6" fill="#E6E5D1"/>
<rect x="194" y="139" width="6" height="6" fill="#E5E5E1"/>
<rect x="164" y="145" width="6" height="6" fill="#E7E5CD"/>
<rect x="170" y="145" width="12" height="6" fill="#E8E5BC"/>
<rect x="182" y="145" width="6" height="6" fill="#E7E5CD"/>
<rect x="188" y="145" width="6" height="6" fill="#E6E5D1"/>
<rect x="194" y="145" width="6" height="6" fill="#E5E5E1"/>
<rect x="248" y="145" width="6" height="6" fill="#E5E5E1"/>
<rect x="254" y="145" width="7" height="6" fill="#E7E5CD"/>
<rect x="261" y="145" width="6" height="6" fill="#E5E5E1"/>
<rect x="158" y="151" width="6" height="6" fill="#E5E5E1"/>
<rect x="164" y="151" width="6" height="6" fill="#E7E5C8"/>
<rect x="170" y="151" width="6" height="6" fill="#E8E5B8"/>
<rect x="176" y="151" width="6" height="6" fill="#E8E5BC"/>
<rect x="182" y="151" width="6" height="6" fill="#E7E5CD"/>
<rect x="188" y="151" width="6" height="6" fill="#E6E5D1"/>
<rect x="248" y="151" width="6" height="6" fill="#E5E5E1"/>
<rect x="254" y="151" width="7" height="6" fill="#E7E5CD"/>
<rect x="261" y="151" width="6" height="6" fill="#E5E5E1"/>
<rect x="158" y="157" width="6" height="6" fill="#E5E5E1"/>
<rect x="164" y="157" width="6" height="6" fill="#E7E5C8"/>
<rect x="170" y="157" width="6" height="6" fill="#E8E5B8"/>
<rect x="176" y="157" width="6" height="6" fill="#E8E5BC"/>
<rect x="182" y="157" width="6" height="6" fill="#E5E5E1"/>
<rect x="158" y="163" width="6" height="6" fill="#E5E5E1"/>
<rect x="164" y="163" width="6" height="6" fill="#E7E5C4"/>
<rect x="170" y="163" width="6" height="6" fill="#E8E5B8"/>
<rect x="176" y="163" width="6" height="6" fill="#E7E5C0"/>
<rect x="182" y="163" width="6" height="6" fill="#E5E5E1"/>
<rect x="158" y="169" width="6" height="6" fill="#E5E5E1"/>
<rect x="164" y="169" width="12" height="6" fill="#E7E5C4"/>
<rect x="176" y="169" width="6" height="6" fill="#E5E5E1"/>
<rect x="164" y="175" width="12" height="6" fill="#E5E5E1"/>
<rect x="309" y="175" width="6" height="6" fill="#E6E5D9"/>
<rect x="315" y="175" width="18" height="6" fill="#E6E5D5"/>
<rect x="309" y="181" width="24" height="6" fill="#E6E5D5"/>
<rect x="309" y="187" width="6" height="6" fill="#E6E5D9"/>
<rect x="315" y="187" width="18" height="6" fill="#E6E5D5"/>
<rect x="297" y="205" width="18" height="6" fill="#E6E5D9"/>
<rect x="261" y="211" width="6" height="6" fill="#E5E5E1"/>
<rect x="267" y="211" width="6" height="6" fill="#E6E5D9"/>
<rect x="254" y="217" width="13" height="6" fill="#E6E5D5"/>
<rect x="267" y="217" width="6" height="6" fill="#E5E5E1"/>
<rect x="242" y="223" width="12" height="6" fill="#E5E5E1"/>
<rect x="254" y="223" width="7" height="6" fill="#E6E5D1"/>
<rect x="261" y="223" width="6" height="6" fill="#E6E5D5"/>
<rect x="315" y="223" width="6" height="6" fill="#E6E5D5"/>
<rect x="321" y="223" width="12" height="6" fill="#E6E5D1"/>
<rect x="236" y="229" width="6" height="6" fill="#E5E5E1"/>
<rect x="242" y="229" width="6" height="6" fill="#E7E5C4"/>
<rect x="248" y="229" width="13" height="6" fill="#E7E5C0"/>
<rect x="261" y="229" width="6" height="6" fill="#E5E5E1"/>
<rect x="315" y="229" width="6" height="6" fill="#E6E5D5"/>
<rect x="321" y="229" width="12" height="6" fill="#E6E5D1"/>
<rect x="236" y="235" width="6" height="6" fill="#E5E5E1"/>
<rect x="242" y="235" width="6" height="6" fill="#E7E5C0"/>
<rect x="248" y="235" width="6" height="6" fill="#E8E5BC"/>
<rect x="254" y="235" width="7" height="6" fill="#E7E5C0"/>
<rect x="261" y="235" width="6" height="6" fill="#E5E5E1"/>
<rect x="236" y="241" width="6" height="6" fill="#E5E5E1"/>
<rect x="242" y="241" width="12" height="6" fill="#E9E5B0"/>
<rect x="254" y="241" width="7" height="6" fill="#E7E5C0"/>
<rect x="261" y="241" width="6" height="6" fill="#E5E5E1"/>
<rect x="273" y="241" width="6" height="6" fill="#E6E5D9"/>
<rect x="236" y="247" width="6" height="6" fill="#E5E5E1"/>
<rect x="242" y="247" width="6" height="6" fill="#E6E5D1"/>
<rect x="248" y="247" width="6" height="6" fill="#E6E5DD"/>
<rect x="254" y="247" width="7" height="6" fill="#E5E5E1"/>
<rect x="267" y="247" width="6" height="6" fill="#E6E5D9"/></g>
<use href="#bd"/><use href="#box"/>
<text class="t" x="185" y="19">(Model 1 - Model 2)/(Model 1)x100%: O3_MDA8</text>
<text class="s" x="185" y="379.5">Min = -0.9 | Max = 9.4</text>
<text class="s" x="185" y="391.5" xml:space="preserve">Mean: 0.4 |  Median: 0.3</text>
</g>
<g shape-rendering="crispEdges">
<rect x="840.5" y="741.11" width="8.0" height="4.89" fill="#E5E5E5"/>
<rect x="840.5" y="736.71" width="8.0" height="4.89" fill="#E6E5D8"/>
<rect x="840.5" y="732.32" width="8.0" height="4.89" fill="#E7E5CB"/>
<rect x="840.5" y="727.92" width="8.0" height="4.89" fill="#E8E5BE"/>
<rect x="840.5" y="723.53" width="8.0" height="4.89" fill="#E8E5B1"/>
<rect x="840.5" y="719.14" width="8.0" height="4.89" fill="#E9E5A4"/>
<rect x="840.5" y="714.74" width="8.0" height="4.89" fill="#EAE597"/>
<rect x="840.5" y="710.35" width="8.0" height="4.89" fill="#EBE48A"/>
<rect x="840.5" y="705.96" width="8.0" height="4.89" fill="#ECE47E"/>
<rect x="840.5" y="701.56" width="8.0" height="4.89" fill="#EDE471"/>
<rect x="840.5" y="697.17" width="8.0" height="4.89" fill="#EEE464"/>
<rect x="840.5" y="692.77" width="8.0" height="4.89" fill="#EFE457"/>
<rect x="840.5" y="688.38" width="8.0" height="4.89" fill="#EFE44A"/>
<rect x="840.5" y="683.99" width="8.0" height="4.89" fill="#F0E240"/>
<rect x="840.5" y="679.59" width="8.0" height="4.89" fill="#EFDC3B"/>
<rect x="840.5" y="675.20" width="8.0" height="4.89" fill="#EED735"/>
<rect x="840.5" y="670.81" width="8.0" height="4.89" fill="#EDD130"/>
<rect x="840.5" y="666.41" width="8.0" height="4.89" fill="#EDCC2B"/>
<rect x="840.5" y="662.02" width="8.0" height="4.89" fill="#ECC626"/>
<rect x="840.5" y="657.62" width="8.0" height="4.89" fill="#EBC120"/>
<rect x="840.5" y="653.23" width="8.0" height="4.89" fill="#EABB1B"/>
<rect x="840.5" y="648.84" width="8.0" height="4.89" fill="#E9B616"/>
<rect x="840.5" y="644.44" width="8.0" height="4.89" fill="#E9B111"/>
<rect x="840.5" y="640.05" width="8.0" height="4.89" fill="#E8AB0C"/>
<rect x="840.5" y="635.66" width="8.0" height="4.89" fill="#E7A606"/>
<rect x="840.5" y="631.26" width="8.0" height="4.89" fill="#E6A001"/>
<rect x="840.5" y="626.87" width="8.0" height="4.89" fill="#E59B00"/>
<rect x="840.5" y="622.48" width="8.0" height="4.89" fill="#E49600"/>
<rect x="840.5" y="618.08" width="8.0" height="4.89" fill="#E29100"/>
<rect x="840.5" y="613.69" width="8.0" height="4.89" fill="#E18B00"/>
<rect x="840.5" y="609.29" width="8.0" height="4.89" fill="#E08600"/>
<rect x="840.5" y="604.90" width="8.0" height="4.89" fill="#DE8100"/>
<rect x="840.5" y="600.51" width="8.0" height="4.89" fill="#DD7C00"/>
<rect x="840.5" y="596.11" width="8.0" height="4.89" fill="#DB7700"/>
<rect x="840.5" y="591.72" width="8.0" height="4.89" fill="#DA7200"/>
<rect x="840.5" y="587.33" width="8.0" height="4.89" fill="#D96C00"/>
<rect x="840.5" y="582.93" width="8.0" height="4.89" fill="#D76700"/>
<rect x="840.5" y="578.54" width="8.0" height="4.89" fill="#D66200"/>
<rect x="840.5" y="574.14" width="8.0" height="4.89" fill="#D55E03"/>
<rect x="840.5" y="569.75" width="8.0" height="4.89" fill="#D46110"/>
<rect x="840.5" y="565.36" width="8.0" height="4.89" fill="#D3631D"/>
<rect x="840.5" y="560.96" width="8.0" height="4.89" fill="#D3652A"/>
<rect x="840.5" y="556.57" width="8.0" height="4.89" fill="#D26738"/>
<rect x="840.5" y="552.17" width="8.0" height="4.89" fill="#D16945"/>
<rect x="840.5" y="547.78" width="8.0" height="4.89" fill="#D16B52"/>
<rect x="840.5" y="543.39" width="8.0" height="4.89" fill="#D06D5F"/>
<rect x="840.5" y="538.99" width="8.0" height="4.89" fill="#CF706D"/>
<rect x="840.5" y="534.60" width="8.0" height="4.89" fill="#CE727A"/>
<rect x="840.5" y="530.21" width="8.0" height="4.89" fill="#CE7487"/>
<rect x="840.5" y="525.81" width="8.0" height="4.89" fill="#CD7694"/>
<rect x="840.5" y="521.42" width="8.0" height="4.89" fill="#CC78A2"/>
<rect x="840.5" y="517.02" width="8.0" height="4.89" fill="#CE739F"/>
<rect x="840.5" y="512.63" width="8.0" height="4.89" fill="#D26A92"/>
<rect x="840.5" y="508.24" width="8.0" height="4.89" fill="#D76085"/>
<rect x="840.5" y="503.84" width="8.0" height="4.89" fill="#DB5677"/>
<rect x="840.5" y="499.45" width="8.0" height="4.89" fill="#DF4D6A"/>
<rect x="840.5" y="495.06" width="8.0" height="4.89" fill="#E3435D"/>
<rect x="840.5" y="490.66" width="8.0" height="4.89" fill="#E73A50"/>
<rect x="840.5" y="486.27" width="8.0" height="4.89" fill="#EB3042"/>
<rect x="840.5" y="481.88" width="8.0" height="4.89" fill="#EF2635"/>
<rect x="840.5" y="477.48" width="8.0" height="4.89" fill="#F31D28"/>
<rect x="840.5" y="473.09" width="8.0" height="4.89" fill="#F7131B"/>
<rect x="840.5" y="468.69" width="8.0" height="4.89" fill="#FB0A0D"/>
<rect x="840.5" y="464.30" width="8.0" height="4.89" fill="#FF0000"/>
</g>
<rect x="840.5" y="464.3" width="8.0" height="281.2" fill="none" stroke="#000" stroke-width="0.75"/>
<text class="c" x="860.0" y="471.5">100</text>
<text class="c" x="860.0" y="499.1">90</text>
<text class="c" x="860.0" y="526.7">80</text>
<text class="c" x="860.0" y="554.3">70</text>
<text class="c" x="860.0" y="581.9">60</text>
<text class="c" x="860.0" y="609.5">50</text>
<text class="c" x="860.0" y="637.1">40</text>
<text class="c" x="860.0" y="664.7">30</text>
<text class="c" x="860.0" y="692.3">20</text>
<text class="c" x="860.0" y="719.9">10</text>
<text class="c" x="860.0" y="747.5">0</text>
<path d="M848.5 467.0h6.5 M848.5 494.6h6.5 M848.5 522.2h6.5 M848.5 549.8h6.5 M848.5 577.4h6.5 M848.5 605.0h6.5 M848.5 632.6h6.5 M848.5 660.2h6.5 M848.5 687.8h6.5 M848.5 715.4h6.5 M848.5 743.0h6.5" stroke="#000" stroke-width="0.75" fill="none"/>
<text class="u" x="844.2" y="461.6">%</text>
</svg></body></html>
